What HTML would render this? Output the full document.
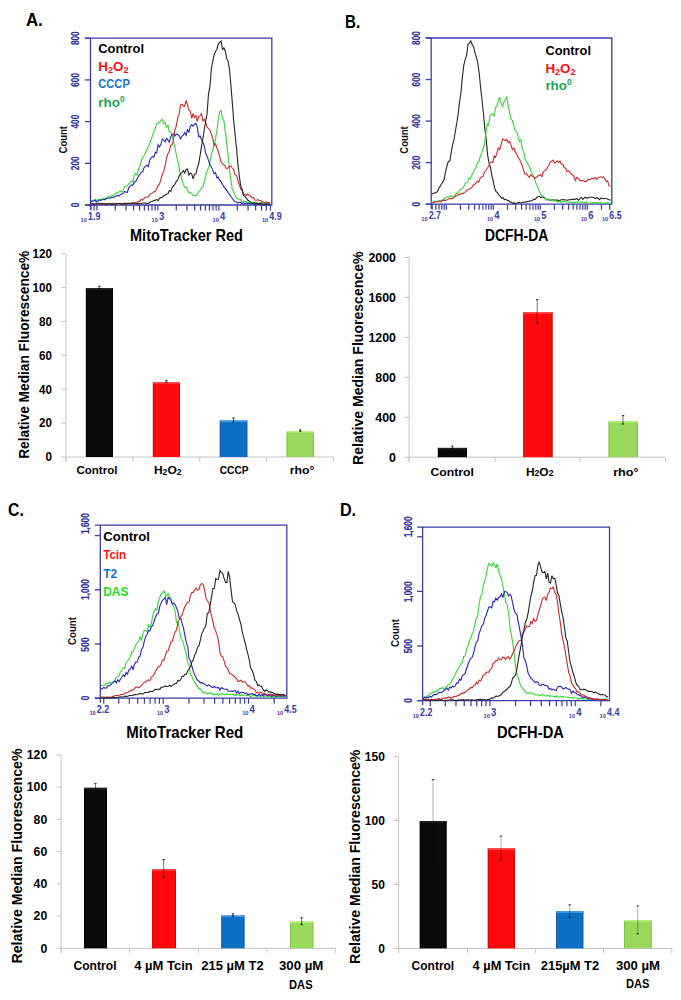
<!DOCTYPE html>
<html><head><meta charset="utf-8"><title>Figure</title>
<style>
html,body{margin:0;padding:0;background:#fff;}
body{width:681px;height:1000px;overflow:hidden;}
svg{display:block;font-family:"Liberation Sans", sans-serif;}
</style></head><body>
<svg width="681" height="1000" viewBox="0 0 681 1000">
<rect x="0" y="0" width="681" height="1000" fill="#fff"/>
<text x="25.90" y="26.10" font-size="18.5" fill="#000" font-weight="bold" text-anchor="start" textLength="16.9" lengthAdjust="spacingAndGlyphs"  style="">A.</text>
<text x="345.00" y="27.50" font-size="18.5" fill="#000" font-weight="bold" text-anchor="start" textLength="15.1" lengthAdjust="spacingAndGlyphs"  style="">B.</text>
<text x="8.10" y="516.40" font-size="18.5" fill="#000" font-weight="bold" text-anchor="start" textLength="15.8" lengthAdjust="spacingAndGlyphs"  style="">C.</text>
<text x="339.90" y="516.40" font-size="18.5" fill="#000" font-weight="bold" text-anchor="start" textLength="16.2" lengthAdjust="spacingAndGlyphs"  style="">D.</text>
<path d="M85.00,38.20 H271.80 V205.00 H85.00 M90.50,38.20 V209.50" fill="none" stroke="#3c3ca8" stroke-width="1.3"/>
<line x1="85.00" y1="205.00" x2="90.50" y2="205.00" stroke="#3c3ca8" stroke-width="1.3" />
<line x1="85.00" y1="163.30" x2="90.50" y2="163.30" stroke="#3c3ca8" stroke-width="1.3" />
<line x1="85.00" y1="121.60" x2="90.50" y2="121.60" stroke="#3c3ca8" stroke-width="1.3" />
<line x1="85.00" y1="79.90" x2="90.50" y2="79.90" stroke="#3c3ca8" stroke-width="1.3" />
<line x1="85.00" y1="38.20" x2="90.50" y2="38.20" stroke="#3c3ca8" stroke-width="1.3" />
<line x1="90.99" y1="205.00" x2="90.99" y2="210.60" stroke="#3c3ca8" stroke-width="1.2" />
<line x1="94.11" y1="205.00" x2="94.11" y2="210.60" stroke="#3c3ca8" stroke-width="1.2" />
<line x1="96.90" y1="205.00" x2="96.90" y2="210.60" stroke="#3c3ca8" stroke-width="1.2" />
<line x1="115.26" y1="205.00" x2="115.26" y2="210.60" stroke="#3c3ca8" stroke-width="1.2" />
<line x1="126.00" y1="205.00" x2="126.00" y2="210.60" stroke="#3c3ca8" stroke-width="1.2" />
<line x1="133.63" y1="205.00" x2="133.63" y2="210.60" stroke="#3c3ca8" stroke-width="1.2" />
<line x1="139.54" y1="205.00" x2="139.54" y2="210.60" stroke="#3c3ca8" stroke-width="1.2" />
<line x1="144.37" y1="205.00" x2="144.37" y2="210.60" stroke="#3c3ca8" stroke-width="1.2" />
<line x1="148.45" y1="205.00" x2="148.45" y2="210.60" stroke="#3c3ca8" stroke-width="1.2" />
<line x1="151.99" y1="205.00" x2="151.99" y2="210.60" stroke="#3c3ca8" stroke-width="1.2" />
<line x1="155.11" y1="205.00" x2="155.11" y2="210.60" stroke="#3c3ca8" stroke-width="1.2" />
<line x1="157.90" y1="205.00" x2="157.90" y2="210.60" stroke="#3c3ca8" stroke-width="1.2" />
<line x1="176.26" y1="205.00" x2="176.26" y2="210.60" stroke="#3c3ca8" stroke-width="1.2" />
<line x1="187.00" y1="205.00" x2="187.00" y2="210.60" stroke="#3c3ca8" stroke-width="1.2" />
<line x1="194.63" y1="205.00" x2="194.63" y2="210.60" stroke="#3c3ca8" stroke-width="1.2" />
<line x1="200.54" y1="205.00" x2="200.54" y2="210.60" stroke="#3c3ca8" stroke-width="1.2" />
<line x1="205.37" y1="205.00" x2="205.37" y2="210.60" stroke="#3c3ca8" stroke-width="1.2" />
<line x1="209.45" y1="205.00" x2="209.45" y2="210.60" stroke="#3c3ca8" stroke-width="1.2" />
<line x1="212.99" y1="205.00" x2="212.99" y2="210.60" stroke="#3c3ca8" stroke-width="1.2" />
<line x1="216.11" y1="205.00" x2="216.11" y2="210.60" stroke="#3c3ca8" stroke-width="1.2" />
<line x1="218.90" y1="205.00" x2="218.90" y2="210.60" stroke="#3c3ca8" stroke-width="1.2" />
<line x1="237.26" y1="205.00" x2="237.26" y2="210.60" stroke="#3c3ca8" stroke-width="1.2" />
<line x1="248.00" y1="205.00" x2="248.00" y2="210.60" stroke="#3c3ca8" stroke-width="1.2" />
<line x1="255.63" y1="205.00" x2="255.63" y2="210.60" stroke="#3c3ca8" stroke-width="1.2" />
<line x1="261.54" y1="205.00" x2="261.54" y2="210.60" stroke="#3c3ca8" stroke-width="1.2" />
<line x1="266.37" y1="205.00" x2="266.37" y2="210.60" stroke="#3c3ca8" stroke-width="1.2" />
<line x1="270.45" y1="205.00" x2="270.45" y2="210.60" stroke="#3c3ca8" stroke-width="1.2" />
<text transform="translate(79.40,205.00) rotate(-90)" x="0" y="0" font-size="10" fill="#30309e" font-weight="bold" text-anchor="middle" textLength="4.5" lengthAdjust="spacingAndGlyphs" stroke="#30309e" stroke-width="0.15">0</text>
<text transform="translate(79.40,163.30) rotate(-90)" x="0" y="0" font-size="10" fill="#30309e" font-weight="bold" text-anchor="middle" textLength="13.8" lengthAdjust="spacingAndGlyphs" stroke="#30309e" stroke-width="0.15">200</text>
<text transform="translate(79.40,121.60) rotate(-90)" x="0" y="0" font-size="10" fill="#30309e" font-weight="bold" text-anchor="middle" textLength="13.8" lengthAdjust="spacingAndGlyphs" stroke="#30309e" stroke-width="0.15">400</text>
<text transform="translate(79.40,79.90) rotate(-90)" x="0" y="0" font-size="10" fill="#30309e" font-weight="bold" text-anchor="middle" textLength="13.8" lengthAdjust="spacingAndGlyphs" stroke="#30309e" stroke-width="0.15">600</text>
<text transform="translate(79.40,38.20) rotate(-90)" x="0" y="0" font-size="10" fill="#30309e" font-weight="bold" text-anchor="middle" textLength="13.8" lengthAdjust="spacingAndGlyphs" stroke="#30309e" stroke-width="0.15">800</text>
<text transform="translate(66.80,139.75) rotate(-90)" x="0" y="0" font-size="10.5" fill="#111" font-weight="bold" text-anchor="middle" textLength="27.5" lengthAdjust="spacingAndGlyphs" >Count</text>
<text x="80.60" y="221.90" font-size="6.2" fill="#3c3ca8" font-weight="bold" textLength="6.2" lengthAdjust="spacingAndGlyphs">10</text>
<text x="88.00" y="219.90" font-size="10.6" fill="#3c3ca8" font-weight="bold" textLength="12.4" lengthAdjust="spacingAndGlyphs">1.9</text>
<text x="151.55" y="221.90" font-size="6.2" fill="#3c3ca8" font-weight="bold" textLength="6.2" lengthAdjust="spacingAndGlyphs">10</text>
<text x="158.95" y="219.90" font-size="10.6" fill="#3c3ca8" font-weight="bold" textLength="5.3" lengthAdjust="spacingAndGlyphs">3</text>
<text x="212.55" y="221.90" font-size="6.2" fill="#3c3ca8" font-weight="bold" textLength="6.2" lengthAdjust="spacingAndGlyphs">10</text>
<text x="219.95" y="219.90" font-size="10.6" fill="#3c3ca8" font-weight="bold" textLength="5.3" lengthAdjust="spacingAndGlyphs">4</text>
<text x="261.90" y="221.90" font-size="6.2" fill="#3c3ca8" font-weight="bold" textLength="6.2" lengthAdjust="spacingAndGlyphs">10</text>
<text x="269.30" y="219.90" font-size="10.6" fill="#3c3ca8" font-weight="bold" textLength="12.4" lengthAdjust="spacingAndGlyphs">4.9</text>
<path d="M90.90,200.37 L92.30,200.72 L93.70,200.25 L95.10,199.45 L96.50,200.44 L97.90,199.88 L99.30,199.11 L100.70,199.55 L102.10,199.13 L103.50,198.80 L104.90,198.23 L106.30,198.30 L107.70,197.03 L109.10,196.72 L110.50,196.00 L111.90,196.19 L113.30,194.94 L114.70,194.07 L116.10,193.12 L117.50,192.62 L118.90,191.99 L120.30,191.00 L121.70,191.92 L123.10,190.60 L124.50,187.06 L125.90,185.90 L127.30,185.59 L128.70,183.97 L130.10,182.83 L131.50,180.88 L132.90,181.82 L134.30,175.24 L135.70,173.34 L137.10,174.97 L138.50,169.50 L139.90,166.41 L141.30,161.28 L142.70,157.00 L144.10,155.87 L145.50,153.03 L146.90,148.95 L148.30,146.73 L149.70,144.23 L151.10,139.29 L152.50,135.62 L153.90,131.87 L155.30,128.11 L156.70,123.72 L158.10,123.06 L159.50,122.28 L160.90,120.54 L162.30,119.35 L163.70,123.80 L165.10,122.45 L166.50,127.23 L167.90,125.39 L169.30,131.84 L170.70,132.27 L172.10,135.08 L173.50,141.15 L174.90,147.19 L176.30,154.62 L177.70,160.66 L179.10,167.33 L180.50,174.62 L181.90,179.44 L183.30,184.16 L184.70,187.38 L186.10,187.20 L187.50,189.96 L188.90,192.67 L190.30,192.42 L191.70,193.44 L193.10,195.55 L194.50,195.45 L195.90,195.95 L197.30,193.85 L198.70,191.69 L200.10,190.27 L201.50,187.70 L202.90,186.57 L204.30,182.28 L205.70,176.16 L207.10,170.97 L208.50,168.04 L209.90,162.23 L211.30,154.82 L212.70,149.93 L214.10,145.26 L215.50,138.81 L216.90,130.88 L218.30,119.49 L219.70,111.68 L221.10,110.34 L222.50,118.43 L223.90,120.46 L225.30,131.68 L226.70,142.86 L228.10,155.27 L229.50,169.36 L230.90,179.86 L232.30,189.67 L233.70,191.97 L235.10,195.56 L236.50,198.17 L237.90,198.86 L239.30,199.21 L240.70,199.65 L242.10,201.97 L243.50,201.08 L244.90,201.31 L246.30,201.90 L247.70,202.00 L249.10,202.75 L250.50,202.36 L251.90,202.44 L253.30,202.35 L254.70,202.88 L256.10,202.44 L257.50,203.14 L258.90,203.69 L260.30,202.54 L261.70,202.49 L263.10,203.32 L264.50,204.12 L265.90,202.83 L267.30,202.80 L268.70,203.41 L270.10,202.92" fill="none" stroke="#33d633" stroke-width="1.1" stroke-linejoin="miter" stroke-miterlimit="3"/>
<path d="M90.90,201.73 L92.30,201.23 L93.70,201.02 L95.10,200.31 L96.50,201.99 L97.90,201.25 L99.30,200.00 L100.70,200.44 L102.10,199.76 L103.50,199.04 L104.90,199.78 L106.30,198.54 L107.70,198.23 L109.10,197.75 L110.50,198.15 L111.90,197.34 L113.30,197.54 L114.70,196.36 L116.10,196.28 L117.50,195.29 L118.90,196.01 L120.30,194.66 L121.70,194.09 L123.10,193.36 L124.50,191.47 L125.90,191.97 L127.30,192.53 L128.70,187.85 L130.10,186.45 L131.50,184.89 L132.90,185.18 L134.30,182.04 L135.70,181.56 L137.10,178.96 L138.50,176.18 L139.90,174.47 L141.30,171.97 L142.70,171.96 L144.10,167.48 L145.50,166.17 L146.90,165.14 L148.30,166.65 L149.70,160.21 L151.10,158.02 L152.50,156.49 L153.90,157.19 L155.30,152.25 L156.70,152.88 L158.10,144.75 L159.50,146.90 L160.90,144.65 L162.30,139.13 L163.70,140.06 L165.10,142.10 L166.50,138.33 L167.90,140.15 L169.30,142.24 L170.70,136.77 L172.10,134.98 L173.50,133.80 L174.90,136.04 L176.30,133.89 L177.70,134.52 L179.10,135.73 L180.50,138.73 L181.90,136.33 L183.30,135.06 L184.70,132.42 L186.10,135.37 L187.50,129.63 L188.90,132.12 L190.30,126.57 L191.70,124.65 L193.10,126.15 L194.50,124.23 L195.90,123.57 L197.30,126.91 L198.70,136.65 L200.10,135.98 L201.50,139.71 L202.90,142.15 L204.30,145.81 L205.70,153.25 L207.10,156.14 L208.50,160.45 L209.90,164.69 L211.30,166.65 L212.70,169.89 L214.10,173.57 L215.50,172.59 L216.90,177.86 L218.30,177.04 L219.70,180.11 L221.10,181.68 L222.50,184.42 L223.90,186.84 L225.30,188.59 L226.70,190.43 L228.10,192.54 L229.50,194.57 L230.90,196.26 L232.30,198.52 L233.70,200.35 L235.10,201.69 L236.50,201.98 L237.90,203.19 L239.30,202.39 L240.70,202.35 L242.10,203.79 L243.50,202.67 L244.90,203.60 L246.30,203.02 L247.70,203.53 L249.10,203.05 L250.50,203.98 L251.90,203.57 L253.30,203.49 L254.70,204.54 L256.10,204.17 L257.50,203.90 L258.90,203.80 L260.30,203.98 L261.70,204.01 L263.10,204.40 L264.50,204.46 L265.90,204.04 L267.30,204.08 L268.70,204.10 L270.10,203.97" fill="none" stroke="#2626bc" stroke-width="1.1" stroke-linejoin="miter" stroke-miterlimit="3"/>
<path d="M90.90,204.73 L92.30,203.43 L93.70,203.99 L95.10,203.69 L96.50,203.71 L97.90,203.74 L99.30,203.40 L100.70,203.73 L102.10,203.60 L103.50,204.69 L104.90,203.84 L106.30,203.65 L107.70,203.65 L109.10,203.56 L110.50,203.46 L111.90,203.57 L113.30,203.86 L114.70,203.55 L116.10,204.04 L117.50,203.50 L118.90,203.52 L120.30,204.25 L121.70,203.71 L123.10,203.29 L124.50,203.32 L125.90,203.60 L127.30,204.29 L128.70,203.17 L130.10,203.12 L131.50,203.66 L132.90,202.83 L134.30,202.72 L135.70,202.94 L137.10,202.28 L138.50,201.37 L139.90,201.16 L141.30,199.32 L142.70,200.11 L144.10,198.21 L145.50,197.20 L146.90,197.30 L148.30,196.88 L149.70,195.00 L151.10,193.61 L152.50,192.91 L153.90,191.48 L155.30,191.72 L156.70,188.85 L158.10,185.62 L159.50,184.27 L160.90,179.17 L162.30,174.81 L163.70,171.41 L165.10,165.64 L166.50,158.63 L167.90,153.60 L169.30,151.31 L170.70,145.20 L172.10,144.77 L173.50,139.01 L174.90,129.93 L176.30,126.02 L177.70,117.71 L179.10,114.45 L180.50,104.98 L181.90,104.13 L183.30,105.95 L184.70,106.48 L186.10,100.32 L187.50,104.94 L188.90,110.13 L190.30,111.07 L191.70,118.51 L193.10,113.48 L194.50,117.30 L195.90,115.60 L197.30,121.32 L198.70,116.60 L200.10,115.70 L201.50,113.61 L202.90,120.88 L204.30,119.35 L205.70,122.42 L207.10,127.26 L208.50,128.30 L209.90,130.18 L211.30,133.88 L212.70,137.70 L214.10,145.65 L215.50,143.79 L216.90,147.89 L218.30,151.49 L219.70,156.44 L221.10,162.05 L222.50,163.73 L223.90,164.86 L225.30,166.30 L226.70,168.82 L228.10,167.87 L229.50,166.75 L230.90,166.04 L232.30,168.04 L233.70,169.79 L235.10,174.67 L236.50,175.67 L237.90,180.48 L239.30,184.53 L240.70,188.87 L242.10,190.37 L243.50,194.04 L244.90,194.55 L246.30,195.50 L247.70,193.82 L249.10,195.41 L250.50,196.16 L251.90,197.79 L253.30,197.37 L254.70,199.90 L256.10,200.44 L257.50,199.71 L258.90,200.23 L260.30,200.61 L261.70,201.18 L263.10,201.88 L264.50,203.03 L265.90,201.86 L267.30,202.58 L268.70,202.31 L270.10,203.38" fill="none" stroke="#cc2a2a" stroke-width="1.1" stroke-linejoin="miter" stroke-miterlimit="3"/>
<path d="M90.90,203.68 L92.30,203.77 L93.70,204.58 L95.10,204.11 L96.50,203.49 L97.90,203.79 L99.30,203.67 L100.70,203.86 L102.10,203.48 L103.50,203.89 L104.90,203.88 L106.30,204.51 L107.70,203.91 L109.10,203.99 L110.50,203.46 L111.90,204.68 L113.30,203.36 L114.70,204.23 L116.10,203.63 L117.50,203.51 L118.90,203.54 L120.30,203.52 L121.70,203.82 L123.10,203.59 L124.50,204.32 L125.90,203.21 L127.30,203.55 L128.70,203.35 L130.10,203.89 L131.50,203.08 L132.90,203.38 L134.30,203.53 L135.70,203.09 L137.10,203.87 L138.50,203.42 L139.90,203.82 L141.30,203.76 L142.70,203.01 L144.10,203.01 L145.50,203.09 L146.90,203.50 L148.30,203.38 L149.70,202.35 L151.10,201.85 L152.50,201.19 L153.90,200.61 L155.30,200.11 L156.70,199.57 L158.10,200.74 L159.50,198.22 L160.90,197.62 L162.30,197.44 L163.70,195.76 L165.10,195.05 L166.50,194.09 L167.90,193.68 L169.30,190.62 L170.70,191.47 L172.10,187.66 L173.50,185.82 L174.90,184.27 L176.30,181.39 L177.70,179.79 L179.10,176.07 L180.50,173.72 L181.90,172.88 L183.30,170.55 L184.70,172.90 L186.10,169.39 L187.50,169.01 L188.90,175.07 L190.30,172.94 L191.70,173.88 L193.10,178.86 L194.50,174.25 L195.90,173.99 L197.30,167.93 L198.70,163.75 L200.10,155.32 L201.50,146.46 L202.90,138.42 L204.30,129.52 L205.70,121.07 L207.10,113.76 L208.50,93.68 L209.90,86.85 L211.30,69.52 L212.70,61.52 L214.10,54.86 L215.50,51.49 L216.90,49.25 L218.30,44.06 L219.70,42.46 L221.10,41.17 L222.50,49.59 L223.90,47.90 L225.30,50.97 L226.70,58.48 L228.10,61.11 L229.50,69.70 L230.90,84.97 L232.30,102.49 L233.70,121.13 L235.10,134.27 L236.50,148.32 L237.90,163.82 L239.30,175.70 L240.70,185.95 L242.10,189.51 L243.50,195.41 L244.90,196.32 L246.30,198.15 L247.70,200.02 L249.10,200.84 L250.50,201.83 L251.90,203.34 L253.30,203.12 L254.70,203.02 L256.10,203.57 L257.50,203.12 L258.90,204.39 L260.30,203.64 L261.70,203.77 L263.10,204.75 L264.50,204.79 L265.90,203.98 L267.30,204.24 L268.70,204.47 L270.10,204.74" fill="none" stroke="#262626" stroke-width="1.1" stroke-linejoin="miter" stroke-miterlimit="3"/>
<text x="98.30" y="53.10" font-size="13.4" fill="#000" font-weight="bold" text-anchor="start" textLength="45.7" lengthAdjust="spacingAndGlyphs"  style="">Control</text>
<text x="98.3" y="70.8" font-size="13.4" fill="#ff1010" font-weight="bold">H<tspan font-size="9" dy="2.5">2</tspan><tspan dy="-2.5">O</tspan><tspan font-size="9" dy="2.5">2</tspan></text>
<text x="98.30" y="88.30" font-size="13.4" fill="#1874c8" font-weight="bold" text-anchor="start" textLength="31.5" lengthAdjust="spacingAndGlyphs"  style="">CCCP</text>
<text x="98.3" y="107.4" font-size="13.4" fill="#18a850" font-weight="bold">rho<tspan font-size="8.5" dy="-5">0</tspan></text>
<text x="130.00" y="241.00" font-size="16.3" fill="#000" font-weight="bold" text-anchor="start" textLength="113.0" lengthAdjust="spacingAndGlyphs"  style="">MitoTracker Red</text>
<path d="M425.70,38.00 H611.80 V204.20 H425.70 M431.20,38.00 V208.70" fill="none" stroke="#3c3ca8" stroke-width="1.3"/>
<line x1="425.70" y1="204.20" x2="431.20" y2="204.20" stroke="#3c3ca8" stroke-width="1.3" />
<line x1="425.70" y1="162.65" x2="431.20" y2="162.65" stroke="#3c3ca8" stroke-width="1.3" />
<line x1="425.70" y1="121.10" x2="431.20" y2="121.10" stroke="#3c3ca8" stroke-width="1.3" />
<line x1="425.70" y1="79.55" x2="431.20" y2="79.55" stroke="#3c3ca8" stroke-width="1.3" />
<line x1="425.70" y1="38.00" x2="431.20" y2="38.00" stroke="#3c3ca8" stroke-width="1.3" />
<line x1="432.15" y1="204.20" x2="432.15" y2="209.80" stroke="#3c3ca8" stroke-width="1.2" />
<line x1="435.87" y1="204.20" x2="435.87" y2="209.80" stroke="#3c3ca8" stroke-width="1.2" />
<line x1="439.02" y1="204.20" x2="439.02" y2="209.80" stroke="#3c3ca8" stroke-width="1.2" />
<line x1="441.75" y1="204.20" x2="441.75" y2="209.80" stroke="#3c3ca8" stroke-width="1.2" />
<line x1="444.15" y1="204.20" x2="444.15" y2="209.80" stroke="#3c3ca8" stroke-width="1.2" />
<line x1="446.30" y1="204.20" x2="446.30" y2="209.80" stroke="#3c3ca8" stroke-width="1.2" />
<line x1="460.45" y1="204.20" x2="460.45" y2="209.80" stroke="#3c3ca8" stroke-width="1.2" />
<line x1="468.72" y1="204.20" x2="468.72" y2="209.80" stroke="#3c3ca8" stroke-width="1.2" />
<line x1="474.60" y1="204.20" x2="474.60" y2="209.80" stroke="#3c3ca8" stroke-width="1.2" />
<line x1="479.15" y1="204.20" x2="479.15" y2="209.80" stroke="#3c3ca8" stroke-width="1.2" />
<line x1="482.87" y1="204.20" x2="482.87" y2="209.80" stroke="#3c3ca8" stroke-width="1.2" />
<line x1="486.02" y1="204.20" x2="486.02" y2="209.80" stroke="#3c3ca8" stroke-width="1.2" />
<line x1="488.75" y1="204.20" x2="488.75" y2="209.80" stroke="#3c3ca8" stroke-width="1.2" />
<line x1="491.15" y1="204.20" x2="491.15" y2="209.80" stroke="#3c3ca8" stroke-width="1.2" />
<line x1="493.30" y1="204.20" x2="493.30" y2="209.80" stroke="#3c3ca8" stroke-width="1.2" />
<line x1="507.45" y1="204.20" x2="507.45" y2="209.80" stroke="#3c3ca8" stroke-width="1.2" />
<line x1="515.72" y1="204.20" x2="515.72" y2="209.80" stroke="#3c3ca8" stroke-width="1.2" />
<line x1="521.60" y1="204.20" x2="521.60" y2="209.80" stroke="#3c3ca8" stroke-width="1.2" />
<line x1="526.15" y1="204.20" x2="526.15" y2="209.80" stroke="#3c3ca8" stroke-width="1.2" />
<line x1="529.87" y1="204.20" x2="529.87" y2="209.80" stroke="#3c3ca8" stroke-width="1.2" />
<line x1="533.02" y1="204.20" x2="533.02" y2="209.80" stroke="#3c3ca8" stroke-width="1.2" />
<line x1="535.75" y1="204.20" x2="535.75" y2="209.80" stroke="#3c3ca8" stroke-width="1.2" />
<line x1="538.15" y1="204.20" x2="538.15" y2="209.80" stroke="#3c3ca8" stroke-width="1.2" />
<line x1="540.30" y1="204.20" x2="540.30" y2="209.80" stroke="#3c3ca8" stroke-width="1.2" />
<line x1="554.45" y1="204.20" x2="554.45" y2="209.80" stroke="#3c3ca8" stroke-width="1.2" />
<line x1="562.72" y1="204.20" x2="562.72" y2="209.80" stroke="#3c3ca8" stroke-width="1.2" />
<line x1="568.60" y1="204.20" x2="568.60" y2="209.80" stroke="#3c3ca8" stroke-width="1.2" />
<line x1="573.15" y1="204.20" x2="573.15" y2="209.80" stroke="#3c3ca8" stroke-width="1.2" />
<line x1="576.87" y1="204.20" x2="576.87" y2="209.80" stroke="#3c3ca8" stroke-width="1.2" />
<line x1="580.02" y1="204.20" x2="580.02" y2="209.80" stroke="#3c3ca8" stroke-width="1.2" />
<line x1="582.75" y1="204.20" x2="582.75" y2="209.80" stroke="#3c3ca8" stroke-width="1.2" />
<line x1="585.15" y1="204.20" x2="585.15" y2="209.80" stroke="#3c3ca8" stroke-width="1.2" />
<line x1="587.30" y1="204.20" x2="587.30" y2="209.80" stroke="#3c3ca8" stroke-width="1.2" />
<line x1="601.45" y1="204.20" x2="601.45" y2="209.80" stroke="#3c3ca8" stroke-width="1.2" />
<line x1="609.72" y1="204.20" x2="609.72" y2="209.80" stroke="#3c3ca8" stroke-width="1.2" />
<text transform="translate(420.20,204.20) rotate(-90)" x="0" y="0" font-size="10" fill="#30309e" font-weight="bold" text-anchor="middle" textLength="4.5" lengthAdjust="spacingAndGlyphs" stroke="#30309e" stroke-width="0.15">0</text>
<text transform="translate(420.20,162.65) rotate(-90)" x="0" y="0" font-size="10" fill="#30309e" font-weight="bold" text-anchor="middle" textLength="13.8" lengthAdjust="spacingAndGlyphs" stroke="#30309e" stroke-width="0.15">200</text>
<text transform="translate(420.20,121.10) rotate(-90)" x="0" y="0" font-size="10" fill="#30309e" font-weight="bold" text-anchor="middle" textLength="13.8" lengthAdjust="spacingAndGlyphs" stroke="#30309e" stroke-width="0.15">400</text>
<text transform="translate(420.20,79.55) rotate(-90)" x="0" y="0" font-size="10" fill="#30309e" font-weight="bold" text-anchor="middle" textLength="13.8" lengthAdjust="spacingAndGlyphs" stroke="#30309e" stroke-width="0.15">600</text>
<text transform="translate(420.20,38.00) rotate(-90)" x="0" y="0" font-size="10" fill="#30309e" font-weight="bold" text-anchor="middle" textLength="13.8" lengthAdjust="spacingAndGlyphs" stroke="#30309e" stroke-width="0.15">800</text>
<text transform="translate(407.50,140.00) rotate(-90)" x="0" y="0" font-size="10.5" fill="#111" font-weight="bold" text-anchor="middle" textLength="27.5" lengthAdjust="spacingAndGlyphs" >Count</text>
<text x="421.30" y="221.10" font-size="6.2" fill="#3c3ca8" font-weight="bold" textLength="6.2" lengthAdjust="spacingAndGlyphs">10</text>
<text x="428.70" y="219.10" font-size="10.6" fill="#3c3ca8" font-weight="bold" textLength="12.4" lengthAdjust="spacingAndGlyphs">2.7</text>
<text x="486.95" y="221.10" font-size="6.2" fill="#3c3ca8" font-weight="bold" textLength="6.2" lengthAdjust="spacingAndGlyphs">10</text>
<text x="494.35" y="219.10" font-size="10.6" fill="#3c3ca8" font-weight="bold" textLength="5.3" lengthAdjust="spacingAndGlyphs">4</text>
<text x="533.95" y="221.10" font-size="6.2" fill="#3c3ca8" font-weight="bold" textLength="6.2" lengthAdjust="spacingAndGlyphs">10</text>
<text x="541.35" y="219.10" font-size="10.6" fill="#3c3ca8" font-weight="bold" textLength="5.3" lengthAdjust="spacingAndGlyphs">5</text>
<text x="580.95" y="221.10" font-size="6.2" fill="#3c3ca8" font-weight="bold" textLength="6.2" lengthAdjust="spacingAndGlyphs">10</text>
<text x="588.35" y="219.10" font-size="10.6" fill="#3c3ca8" font-weight="bold" textLength="5.3" lengthAdjust="spacingAndGlyphs">6</text>
<text x="601.90" y="221.10" font-size="6.2" fill="#3c3ca8" font-weight="bold" textLength="6.2" lengthAdjust="spacingAndGlyphs">10</text>
<text x="609.30" y="219.10" font-size="10.6" fill="#3c3ca8" font-weight="bold" textLength="12.4" lengthAdjust="spacingAndGlyphs">6.5</text>
<path d="M431.60,193.95 L433.00,193.45 L434.40,193.16 L435.80,192.59 L437.20,192.01 L438.60,188.96 L440.00,186.56 L441.40,184.08 L442.80,182.11 L444.20,179.21 L445.60,171.92 L447.00,165.69 L448.40,161.28 L449.80,160.98 L451.20,152.66 L452.60,144.65 L454.00,139.72 L455.40,131.00 L456.80,123.14 L458.20,113.63 L459.60,101.77 L461.00,92.46 L462.40,76.92 L463.80,65.10 L465.20,59.31 L466.60,55.06 L468.00,44.31 L469.40,43.10 L470.80,40.94 L472.20,44.68 L473.60,46.77 L475.00,52.81 L476.40,57.22 L477.80,63.17 L479.20,73.23 L480.60,87.62 L482.00,99.70 L483.40,113.03 L484.80,128.48 L486.20,139.08 L487.60,154.81 L489.00,162.85 L490.40,166.96 L491.80,175.45 L493.20,180.85 L494.60,187.89 L496.00,191.56 L497.40,192.63 L498.80,194.95 L500.20,196.13 L501.60,198.12 L503.00,197.74 L504.40,199.55 L505.80,199.33 L507.20,200.19 L508.60,200.60 L510.00,202.23 L511.40,202.14 L512.80,203.35 L514.20,202.93 L515.60,203.20 L517.00,203.20 L518.40,202.61 L519.80,202.62 L521.20,203.20 L522.60,202.24 L524.00,202.23 L525.40,201.90 L526.80,202.02 L528.20,201.30 L529.60,201.08 L531.00,200.96 L532.40,200.31 L533.80,199.24 L535.20,199.45 L536.60,197.47 L538.00,196.81 L539.40,196.29 L540.80,197.52 L542.20,196.82 L543.60,197.46 L545.00,198.45 L546.40,200.02 L547.80,199.79 L549.20,199.73 L550.60,200.55 L552.00,199.75 L553.40,200.01 L554.80,200.10 L556.20,199.97 L557.60,200.08 L559.00,201.08 L560.40,199.95 L561.80,199.73 L563.20,199.56 L564.60,200.04 L566.00,199.99 L567.40,200.24 L568.80,199.82 L570.20,199.67 L571.60,199.42 L573.00,199.28 L574.40,199.35 L575.80,198.87 L577.20,198.84 L578.60,200.12 L580.00,198.70 L581.40,197.53 L582.80,199.42 L584.20,198.04 L585.60,197.27 L587.00,198.35 L588.40,197.52 L589.80,197.29 L591.20,197.31 L592.60,197.23 L594.00,197.69 L595.40,198.69 L596.80,197.73 L598.20,198.33 L599.60,199.73 L601.00,197.85 L602.40,198.67 L603.80,198.55 L605.20,198.53 L606.60,198.78 L608.00,199.36 L609.40,199.98 L610.80,199.79" fill="none" stroke="#262626" stroke-width="1.1" stroke-linejoin="miter" stroke-miterlimit="3"/>
<path d="M431.20,202.60 L432.60,202.84 L434.00,201.03 L435.40,201.18 L436.80,201.55 L438.20,201.44 L439.60,200.56 L441.00,200.79 L442.40,199.40 L443.80,199.14 L445.20,198.32 L446.60,197.25 L448.00,196.78 L449.40,196.90 L450.80,195.72 L452.20,196.63 L453.60,196.01 L455.00,195.87 L456.40,193.06 L457.80,193.80 L459.20,190.72 L460.60,189.61 L462.00,188.74 L463.40,187.40 L464.80,184.24 L466.20,182.12 L467.60,181.65 L469.00,178.29 L470.40,178.75 L471.80,174.99 L473.20,172.28 L474.60,169.33 L476.00,167.82 L477.40,162.77 L478.80,162.23 L480.20,156.35 L481.60,153.28 L483.00,148.66 L484.40,144.81 L485.80,133.41 L487.20,123.93 L488.60,124.93 L490.00,115.65 L491.40,114.16 L492.80,114.03 L494.20,116.50 L495.60,107.56 L497.00,105.80 L498.40,100.28 L499.80,97.16 L501.20,103.75 L502.60,106.32 L504.00,101.67 L505.40,99.48 L506.80,97.03 L508.20,105.62 L509.60,112.35 L511.00,119.16 L512.40,120.58 L513.80,125.67 L515.20,130.91 L516.60,131.62 L518.00,136.16 L519.40,141.52 L520.80,139.77 L522.20,148.13 L523.60,151.48 L525.00,158.84 L526.40,161.75 L527.80,163.80 L529.20,166.23 L530.60,170.18 L532.00,173.17 L533.40,176.89 L534.80,179.37 L536.20,184.17 L537.60,186.52 L539.00,190.56 L540.40,193.29 L541.80,196.43 L543.20,195.91 L544.60,197.48 L546.00,199.51 L547.40,198.93 L548.80,199.16 L550.20,200.10 L551.60,200.12 L553.00,201.07 L554.40,200.50 L555.80,201.11 L557.20,201.61 L558.60,202.01 L560.00,201.25 L561.40,202.51 L562.80,201.54 L564.20,201.49 L565.60,201.68 L567.00,202.05 L568.40,201.94 L569.80,202.31 L571.20,202.39 L572.60,202.33 L574.00,202.14 L575.40,203.24 L576.80,201.85 L578.20,201.95 L579.60,202.26 L581.00,202.14 L582.40,202.02 L583.80,202.31 L585.20,202.35 L586.60,202.12 L588.00,203.01 L589.40,203.26 L590.80,203.25 L592.20,202.54 L593.60,202.74 L595.00,202.46 L596.40,202.81 L597.80,202.59 L599.20,202.94 L600.60,202.68 L602.00,203.27 L603.40,203.18 L604.80,203.39 L606.20,202.47 L607.60,202.44 L609.00,203.00 L610.40,202.69" fill="none" stroke="#33d633" stroke-width="1.1" stroke-linejoin="miter" stroke-miterlimit="3"/>
<path d="M431.20,202.70 L432.60,202.70 L434.00,202.30 L435.40,201.95 L436.80,201.80 L438.20,201.40 L439.60,201.39 L441.00,201.93 L442.40,200.59 L443.80,200.20 L445.20,200.38 L446.60,199.93 L448.00,199.36 L449.40,198.58 L450.80,198.46 L452.20,198.61 L453.60,197.02 L455.00,196.79 L456.40,195.65 L457.80,195.27 L459.20,194.39 L460.60,194.39 L462.00,193.24 L463.40,193.36 L464.80,192.43 L466.20,191.30 L467.60,189.46 L469.00,189.21 L470.40,188.43 L471.80,187.50 L473.20,185.25 L474.60,184.53 L476.00,182.81 L477.40,181.41 L478.80,182.09 L480.20,178.15 L481.60,176.88 L483.00,176.52 L484.40,172.36 L485.80,170.50 L487.20,168.54 L488.60,166.18 L490.00,162.79 L491.40,161.88 L492.80,162.64 L494.20,156.04 L495.60,157.08 L497.00,152.69 L498.40,147.98 L499.80,149.53 L501.20,143.77 L502.60,139.07 L504.00,139.63 L505.40,140.90 L506.80,139.60 L508.20,142.35 L509.60,141.44 L511.00,145.12 L512.40,149.63 L513.80,148.10 L515.20,151.89 L516.60,153.76 L518.00,157.41 L519.40,158.99 L520.80,162.36 L522.20,165.44 L523.60,170.55 L525.00,174.08 L526.40,173.56 L527.80,175.52 L529.20,177.44 L530.60,174.89 L532.00,175.97 L533.40,176.23 L534.80,178.52 L536.20,177.52 L537.60,176.05 L539.00,175.62 L540.40,174.82 L541.80,176.59 L543.20,172.04 L544.60,170.62 L546.00,170.09 L547.40,167.56 L548.80,165.22 L550.20,162.14 L551.60,161.28 L553.00,160.11 L554.40,163.10 L555.80,162.08 L557.20,160.80 L558.60,162.52 L560.00,161.06 L561.40,164.46 L562.80,164.07 L564.20,167.71 L565.60,167.94 L567.00,171.57 L568.40,170.91 L569.80,171.84 L571.20,174.11 L572.60,174.61 L574.00,176.41 L575.40,180.49 L576.80,177.36 L578.20,178.43 L579.60,180.01 L581.00,181.10 L582.40,180.54 L583.80,180.55 L585.20,181.71 L586.60,181.19 L588.00,179.36 L589.40,179.62 L590.80,179.34 L592.20,178.15 L593.60,178.89 L595.00,177.48 L596.40,179.40 L597.80,177.79 L599.20,177.43 L600.60,176.79 L602.00,177.36 L603.40,176.81 L604.80,178.54 L606.20,181.29 L607.60,181.01 L609.00,185.67 L610.40,186.61" fill="none" stroke="#cc2a2a" stroke-width="1.1" stroke-linejoin="miter" stroke-miterlimit="3"/>
<text x="545.40" y="54.70" font-size="13.4" fill="#000" font-weight="bold" text-anchor="start" textLength="45.6" lengthAdjust="spacingAndGlyphs"  style="">Control</text>
<text x="545.4" y="72.6" font-size="13.4" fill="#ff1010" font-weight="bold">H<tspan font-size="9" dy="2.5">2</tspan><tspan dy="-2.5">O</tspan><tspan font-size="9" dy="2.5">2</tspan></text>
<text x="545.4" y="89.5" font-size="13.4" fill="#18a850" font-weight="bold">rho<tspan font-size="8.5" dy="-5">0</tspan></text>
<text x="485.00" y="240.80" font-size="16.7" fill="#000" font-weight="bold" text-anchor="start" textLength="63.3" lengthAdjust="spacingAndGlyphs"  style="">DCFH-DA</text>
<path d="M94.80,525.10 H286.80 V698.20 H94.80 M100.30,525.10 V702.70" fill="none" stroke="#3c3ca8" stroke-width="1.3"/>
<line x1="94.80" y1="698.20" x2="100.30" y2="698.20" stroke="#3c3ca8" stroke-width="1.3" />
<line x1="94.80" y1="644.00" x2="100.30" y2="644.00" stroke="#3c3ca8" stroke-width="1.3" />
<line x1="94.80" y1="589.80" x2="100.30" y2="589.80" stroke="#3c3ca8" stroke-width="1.3" />
<line x1="94.80" y1="535.60" x2="100.30" y2="535.60" stroke="#3c3ca8" stroke-width="1.3" />
<line x1="103.75" y1="698.20" x2="103.75" y2="703.80" stroke="#3c3ca8" stroke-width="1.2" />
<line x1="118.75" y1="698.20" x2="118.75" y2="703.80" stroke="#3c3ca8" stroke-width="1.2" />
<line x1="129.40" y1="698.20" x2="129.40" y2="703.80" stroke="#3c3ca8" stroke-width="1.2" />
<line x1="137.65" y1="698.20" x2="137.65" y2="703.80" stroke="#3c3ca8" stroke-width="1.2" />
<line x1="144.40" y1="698.20" x2="144.40" y2="703.80" stroke="#3c3ca8" stroke-width="1.2" />
<line x1="150.10" y1="698.20" x2="150.10" y2="703.80" stroke="#3c3ca8" stroke-width="1.2" />
<line x1="155.04" y1="698.20" x2="155.04" y2="703.80" stroke="#3c3ca8" stroke-width="1.2" />
<line x1="159.40" y1="698.20" x2="159.40" y2="703.80" stroke="#3c3ca8" stroke-width="1.2" />
<line x1="163.30" y1="698.20" x2="163.30" y2="703.80" stroke="#3c3ca8" stroke-width="1.2" />
<line x1="188.95" y1="698.20" x2="188.95" y2="703.80" stroke="#3c3ca8" stroke-width="1.2" />
<line x1="203.95" y1="698.20" x2="203.95" y2="703.80" stroke="#3c3ca8" stroke-width="1.2" />
<line x1="214.60" y1="698.20" x2="214.60" y2="703.80" stroke="#3c3ca8" stroke-width="1.2" />
<line x1="222.85" y1="698.20" x2="222.85" y2="703.80" stroke="#3c3ca8" stroke-width="1.2" />
<line x1="229.60" y1="698.20" x2="229.60" y2="703.80" stroke="#3c3ca8" stroke-width="1.2" />
<line x1="235.30" y1="698.20" x2="235.30" y2="703.80" stroke="#3c3ca8" stroke-width="1.2" />
<line x1="240.24" y1="698.20" x2="240.24" y2="703.80" stroke="#3c3ca8" stroke-width="1.2" />
<line x1="244.60" y1="698.20" x2="244.60" y2="703.80" stroke="#3c3ca8" stroke-width="1.2" />
<line x1="248.50" y1="698.20" x2="248.50" y2="703.80" stroke="#3c3ca8" stroke-width="1.2" />
<line x1="274.15" y1="698.20" x2="274.15" y2="703.80" stroke="#3c3ca8" stroke-width="1.2" />
<text transform="translate(89.30,523.60) rotate(-90)" x="0" y="0" font-size="10" fill="#30309e" font-weight="bold" text-anchor="middle" textLength="21.0" lengthAdjust="spacingAndGlyphs" stroke="#30309e" stroke-width="0.15">1,600</text>
<text transform="translate(89.30,589.50) rotate(-90)" x="0" y="0" font-size="10" fill="#30309e" font-weight="bold" text-anchor="middle" textLength="21.0" lengthAdjust="spacingAndGlyphs" stroke="#30309e" stroke-width="0.15">1,000</text>
<text transform="translate(89.30,644.60) rotate(-90)" x="0" y="0" font-size="10" fill="#30309e" font-weight="bold" text-anchor="middle" textLength="14.8" lengthAdjust="spacingAndGlyphs" stroke="#30309e" stroke-width="0.15">500</text>
<text transform="translate(89.30,697.90) rotate(-90)" x="0" y="0" font-size="10" fill="#30309e" font-weight="bold" text-anchor="middle" textLength="4.5" lengthAdjust="spacingAndGlyphs" stroke="#30309e" stroke-width="0.15">0</text>
<text transform="translate(76.00,631.00) rotate(-90)" x="0" y="0" font-size="10.5" fill="#111" font-weight="bold" text-anchor="middle" textLength="28.0" lengthAdjust="spacingAndGlyphs" >Count</text>
<text x="89.40" y="715.10" font-size="6.2" fill="#3c3ca8" font-weight="bold" textLength="6.2" lengthAdjust="spacingAndGlyphs">10</text>
<text x="96.80" y="713.10" font-size="10.6" fill="#3c3ca8" font-weight="bold" textLength="12.4" lengthAdjust="spacingAndGlyphs">2.2</text>
<text x="156.95" y="715.10" font-size="6.2" fill="#3c3ca8" font-weight="bold" textLength="6.2" lengthAdjust="spacingAndGlyphs">10</text>
<text x="164.35" y="713.10" font-size="10.6" fill="#3c3ca8" font-weight="bold" textLength="5.3" lengthAdjust="spacingAndGlyphs">3</text>
<text x="242.15" y="715.10" font-size="6.2" fill="#3c3ca8" font-weight="bold" textLength="6.2" lengthAdjust="spacingAndGlyphs">10</text>
<text x="249.55" y="713.10" font-size="10.6" fill="#3c3ca8" font-weight="bold" textLength="5.3" lengthAdjust="spacingAndGlyphs">4</text>
<text x="276.90" y="715.10" font-size="6.2" fill="#3c3ca8" font-weight="bold" textLength="6.2" lengthAdjust="spacingAndGlyphs">10</text>
<text x="284.30" y="713.10" font-size="10.6" fill="#3c3ca8" font-weight="bold" textLength="12.4" lengthAdjust="spacingAndGlyphs">4.5</text>
<path d="M100.90,685.48 L102.30,685.38 L103.70,684.93 L105.10,684.85 L106.50,683.33 L107.90,683.47 L109.30,682.20 L110.70,683.01 L112.10,682.17 L113.50,681.81 L114.90,679.69 L116.30,677.07 L117.70,676.84 L119.10,676.18 L120.50,671.32 L121.90,670.84 L123.30,667.62 L124.70,668.25 L126.10,662.66 L127.50,660.90 L128.90,659.56 L130.30,656.77 L131.70,652.02 L133.10,651.50 L134.50,647.77 L135.90,644.97 L137.30,642.55 L138.70,641.01 L140.10,636.53 L141.50,640.49 L142.90,633.58 L144.30,630.33 L145.70,630.24 L147.10,632.01 L148.50,624.79 L149.90,627.10 L151.30,624.32 L152.70,615.70 L154.10,611.18 L155.50,608.65 L156.90,610.30 L158.30,601.86 L159.70,597.61 L161.10,594.27 L162.50,592.63 L163.90,590.80 L165.30,594.24 L166.70,596.10 L168.10,593.63 L169.50,597.12 L170.90,598.49 L172.30,603.71 L173.70,606.16 L175.10,610.58 L176.50,622.60 L177.90,621.72 L179.30,628.79 L180.70,637.88 L182.10,639.98 L183.50,643.44 L184.90,649.38 L186.30,654.23 L187.70,662.52 L189.10,665.61 L190.50,674.57 L191.90,676.33 L193.30,680.01 L194.70,682.28 L196.10,685.06 L197.50,686.00 L198.90,688.83 L200.30,688.62 L201.70,690.59 L203.10,693.22 L204.50,692.07 L205.90,692.89 L207.30,693.99 L208.70,693.37 L210.10,692.91 L211.50,692.66 L212.90,695.01 L214.30,693.92 L215.70,694.67 L217.10,693.68 L218.50,695.28 L219.90,694.40 L221.30,694.13 L222.70,693.92 L224.10,694.52 L225.50,694.19 L226.90,694.35 L228.30,694.04 L229.70,694.44 L231.10,694.76 L232.50,694.39 L233.90,694.86 L235.30,695.33 L236.70,694.89 L238.10,694.88 L239.50,694.96 L240.90,695.80 L242.30,694.88 L243.70,695.27 L245.10,695.31 L246.50,695.57 L247.90,695.53 L249.30,695.35 L250.70,696.89 L252.10,695.85 L253.50,695.49 L254.90,695.66 L256.30,695.99 L257.70,696.34 L259.10,695.74 L260.50,696.49 L261.90,695.84 L263.30,696.02 L264.70,696.71 L266.10,697.21 L267.50,696.30 L268.90,696.29 L270.30,697.07 L271.70,696.20 L273.10,696.61 L274.50,696.61 L275.90,697.04 L277.30,696.69 L278.70,696.50 L280.10,696.89 L281.50,696.35 L282.90,697.01 L284.30,696.46 L285.70,696.41" fill="none" stroke="#33d633" stroke-width="1.1" stroke-linejoin="miter" stroke-miterlimit="3"/>
<path d="M100.90,688.87 L102.30,688.92 L103.70,687.35 L105.10,688.17 L106.50,688.08 L107.90,685.82 L109.30,685.81 L110.70,684.80 L112.10,683.46 L113.50,682.35 L114.90,680.80 L116.30,682.90 L117.70,679.87 L119.10,681.79 L120.50,678.97 L121.90,676.98 L123.30,674.92 L124.70,676.39 L126.10,672.48 L127.50,674.22 L128.90,669.90 L130.30,669.18 L131.70,666.31 L133.10,669.73 L134.50,664.21 L135.90,662.14 L137.30,662.04 L138.70,657.06 L140.10,656.13 L141.50,649.44 L142.90,647.63 L144.30,641.13 L145.70,636.45 L147.10,634.44 L148.50,630.59 L149.90,630.98 L151.30,626.84 L152.70,625.48 L154.10,621.29 L155.50,617.18 L156.90,613.98 L158.30,613.49 L159.70,606.63 L161.10,603.12 L162.50,600.33 L163.90,599.06 L165.30,597.23 L166.70,604.58 L168.10,597.34 L169.50,598.32 L170.90,600.41 L172.30,604.16 L173.70,603.17 L175.10,604.61 L176.50,607.79 L177.90,611.68 L179.30,618.47 L180.70,618.21 L182.10,623.61 L183.50,627.93 L184.90,635.44 L186.30,642.33 L187.70,646.79 L189.10,658.82 L190.50,660.93 L191.90,666.22 L193.30,671.11 L194.70,674.89 L196.10,677.49 L197.50,680.34 L198.90,681.14 L200.30,683.07 L201.70,682.46 L203.10,683.53 L204.50,683.93 L205.90,685.07 L207.30,685.79 L208.70,684.85 L210.10,685.79 L211.50,687.04 L212.90,687.58 L214.30,686.31 L215.70,687.75 L217.10,687.77 L218.50,687.47 L219.90,690.08 L221.30,687.69 L222.70,688.32 L224.10,689.18 L225.50,689.22 L226.90,689.17 L228.30,690.93 L229.70,691.27 L231.10,691.02 L232.50,691.39 L233.90,690.70 L235.30,690.58 L236.70,693.14 L238.10,691.24 L239.50,693.62 L240.90,692.07 L242.30,692.55 L243.70,692.55 L245.10,693.64 L246.50,692.94 L247.90,694.79 L249.30,693.98 L250.70,693.91 L252.10,693.81 L253.50,694.35 L254.90,694.30 L256.30,695.76 L257.70,695.17 L259.10,694.19 L260.50,695.77 L261.90,694.28 L263.30,695.95 L264.70,694.51 L266.10,695.10 L267.50,695.71 L268.90,695.27 L270.30,695.07 L271.70,696.19 L273.10,695.04 L274.50,695.19 L275.90,696.44 L277.30,695.44 L278.70,695.84 L280.10,696.21 L281.50,695.73 L282.90,695.94 L284.30,695.87 L285.70,695.93" fill="none" stroke="#2626bc" stroke-width="1.1" stroke-linejoin="miter" stroke-miterlimit="3"/>
<path d="M100.90,697.11 L102.30,697.16 L103.70,697.10 L105.10,697.28 L106.50,697.01 L107.90,696.99 L109.30,697.20 L110.70,697.05 L112.10,696.68 L113.50,696.12 L114.90,695.83 L116.30,695.57 L117.70,695.44 L119.10,695.25 L120.50,694.74 L121.90,694.34 L123.30,694.44 L124.70,693.14 L126.10,693.05 L127.50,692.82 L128.90,691.42 L130.30,690.63 L131.70,689.99 L133.10,690.17 L134.50,688.68 L135.90,687.14 L137.30,687.01 L138.70,687.61 L140.10,686.80 L141.50,685.56 L142.90,683.77 L144.30,681.98 L145.70,682.18 L147.10,680.77 L148.50,679.81 L149.90,680.74 L151.30,677.26 L152.70,675.77 L154.10,674.52 L155.50,671.37 L156.90,669.00 L158.30,666.76 L159.70,666.55 L161.10,663.80 L162.50,660.03 L163.90,660.34 L165.30,655.64 L166.70,651.23 L168.10,650.92 L169.50,646.34 L170.90,642.03 L172.30,641.35 L173.70,636.04 L175.10,632.11 L176.50,630.20 L177.90,622.38 L179.30,619.44 L180.70,617.00 L182.10,614.98 L183.50,610.21 L184.90,606.72 L186.30,603.75 L187.70,602.26 L189.10,602.06 L190.50,595.39 L191.90,592.24 L193.30,592.33 L194.70,590.27 L196.10,587.94 L197.50,590.10 L198.90,589.72 L200.30,584.91 L201.70,583.45 L203.10,584.41 L204.50,589.50 L205.90,597.66 L207.30,601.22 L208.70,602.00 L210.10,609.37 L211.50,615.74 L212.90,621.86 L214.30,628.07 L215.70,630.86 L217.10,635.41 L218.50,640.98 L219.90,652.13 L221.30,656.10 L222.70,656.76 L224.10,660.94 L225.50,666.26 L226.90,667.55 L228.30,670.27 L229.70,673.48 L231.10,673.91 L232.50,675.02 L233.90,676.02 L235.30,677.31 L236.70,678.82 L238.10,681.53 L239.50,681.14 L240.90,680.08 L242.30,682.11 L243.70,681.71 L245.10,681.64 L246.50,683.46 L247.90,685.94 L249.30,685.63 L250.70,688.13 L252.10,687.94 L253.50,689.10 L254.90,689.58 L256.30,692.83 L257.70,692.11 L259.10,693.10 L260.50,692.47 L261.90,692.48 L263.30,694.21 L264.70,693.30 L266.10,695.00 L267.50,693.91 L268.90,695.34 L270.30,694.13 L271.70,694.02 L273.10,695.16 L274.50,694.83 L275.90,695.00 L277.30,695.83 L278.70,695.07 L280.10,695.10 L281.50,695.25 L282.90,695.23 L284.30,695.29 L285.70,695.48" fill="none" stroke="#cc2a2a" stroke-width="1.1" stroke-linejoin="miter" stroke-miterlimit="3"/>
<path d="M100.90,698.01 L102.30,698.20 L103.70,698.20 L105.10,697.87 L106.50,697.85 L107.90,697.76 L109.30,697.97 L110.70,697.67 L112.10,697.88 L113.50,697.19 L114.90,698.04 L116.30,697.24 L117.70,697.44 L119.10,696.97 L120.50,696.78 L121.90,696.93 L123.30,696.97 L124.70,696.34 L126.10,696.18 L127.50,696.43 L128.90,695.66 L130.30,695.32 L131.70,695.74 L133.10,695.14 L134.50,694.63 L135.90,694.71 L137.30,694.55 L138.70,694.06 L140.10,693.66 L141.50,693.78 L142.90,694.09 L144.30,692.93 L145.70,692.35 L147.10,692.51 L148.50,692.39 L149.90,691.21 L151.30,691.39 L152.70,691.44 L154.10,689.91 L155.50,689.23 L156.90,689.50 L158.30,689.00 L159.70,689.53 L161.10,687.39 L162.50,687.27 L163.90,686.79 L165.30,685.96 L166.70,686.48 L168.10,686.51 L169.50,685.03 L170.90,686.58 L172.30,685.32 L173.70,684.45 L175.10,683.46 L176.50,683.38 L177.90,680.36 L179.30,680.87 L180.70,679.65 L182.10,676.34 L183.50,676.53 L184.90,674.30 L186.30,674.18 L187.70,670.73 L189.10,668.82 L190.50,666.80 L191.90,661.84 L193.30,659.92 L194.70,654.96 L196.10,652.54 L197.50,647.02 L198.90,645.93 L200.30,640.28 L201.70,633.86 L203.10,631.08 L204.50,628.26 L205.90,625.27 L207.30,613.29 L208.70,612.80 L210.10,605.60 L211.50,596.87 L212.90,588.50 L214.30,588.50 L215.70,578.51 L217.10,579.18 L218.50,579.27 L219.90,570.46 L221.30,572.31 L222.70,573.23 L224.10,578.32 L225.50,582.47 L226.90,582.37 L228.30,571.40 L229.70,577.93 L231.10,590.41 L232.50,601.56 L233.90,602.82 L235.30,604.87 L236.70,610.88 L238.10,614.38 L239.50,619.28 L240.90,624.23 L242.30,631.92 L243.70,637.57 L245.10,642.68 L246.50,648.90 L247.90,654.11 L249.30,660.25 L250.70,668.14 L252.10,670.57 L253.50,673.96 L254.90,680.12 L256.30,681.48 L257.70,685.63 L259.10,684.94 L260.50,686.08 L261.90,686.80 L263.30,689.90 L264.70,691.46 L266.10,689.91 L267.50,690.70 L268.90,692.08 L270.30,691.76 L271.70,692.37 L273.10,692.75 L274.50,693.41 L275.90,694.46 L277.30,693.98 L278.70,694.93 L280.10,694.43 L281.50,694.99 L282.90,694.40 L284.30,694.67 L285.70,695.62" fill="none" stroke="#262626" stroke-width="1.1" stroke-linejoin="miter" stroke-miterlimit="3"/>
<text x="103.20" y="541.10" font-size="13.6" fill="#000" font-weight="bold" text-anchor="start" textLength="46.7" lengthAdjust="spacingAndGlyphs"  style="">Control</text>
<text x="103.20" y="559.30" font-size="13.6" fill="#ff1010" font-weight="bold" text-anchor="start" textLength="22.9" lengthAdjust="spacingAndGlyphs"  style="">Tcin</text>
<text x="103.20" y="577.60" font-size="13.6" fill="#1874c8" font-weight="bold" text-anchor="start" textLength="14.1" lengthAdjust="spacingAndGlyphs"  style="">T2</text>
<text x="103.20" y="596.30" font-size="13.6" fill="#22e022" font-weight="bold" text-anchor="start" textLength="25.2" lengthAdjust="spacingAndGlyphs"  style="">DAS</text>
<text x="126.20" y="738.40" font-size="16.3" fill="#000" font-weight="bold" text-anchor="start" textLength="117.0" lengthAdjust="spacingAndGlyphs"  style="">MitoTracker Red</text>
<path d="M417.10,527.20 H609.50 V700.60 H417.10 M422.60,527.20 V705.10" fill="none" stroke="#3c3ca8" stroke-width="1.3"/>
<line x1="417.10" y1="700.60" x2="422.60" y2="700.60" stroke="#3c3ca8" stroke-width="1.3" />
<line x1="417.10" y1="646.00" x2="422.60" y2="646.00" stroke="#3c3ca8" stroke-width="1.3" />
<line x1="417.10" y1="591.40" x2="422.60" y2="591.40" stroke="#3c3ca8" stroke-width="1.3" />
<line x1="417.10" y1="536.80" x2="422.60" y2="536.80" stroke="#3c3ca8" stroke-width="1.3" />
<line x1="430.28" y1="700.60" x2="430.28" y2="706.20" stroke="#3c3ca8" stroke-width="1.2" />
<line x1="445.30" y1="700.60" x2="445.30" y2="706.20" stroke="#3c3ca8" stroke-width="1.2" />
<line x1="455.96" y1="700.60" x2="455.96" y2="706.20" stroke="#3c3ca8" stroke-width="1.2" />
<line x1="464.22" y1="700.60" x2="464.22" y2="706.20" stroke="#3c3ca8" stroke-width="1.2" />
<line x1="470.98" y1="700.60" x2="470.98" y2="706.20" stroke="#3c3ca8" stroke-width="1.2" />
<line x1="476.69" y1="700.60" x2="476.69" y2="706.20" stroke="#3c3ca8" stroke-width="1.2" />
<line x1="481.63" y1="700.60" x2="481.63" y2="706.20" stroke="#3c3ca8" stroke-width="1.2" />
<line x1="486.00" y1="700.60" x2="486.00" y2="706.20" stroke="#3c3ca8" stroke-width="1.2" />
<line x1="489.90" y1="700.60" x2="489.90" y2="706.20" stroke="#3c3ca8" stroke-width="1.2" />
<line x1="515.58" y1="700.60" x2="515.58" y2="706.20" stroke="#3c3ca8" stroke-width="1.2" />
<line x1="530.60" y1="700.60" x2="530.60" y2="706.20" stroke="#3c3ca8" stroke-width="1.2" />
<line x1="541.26" y1="700.60" x2="541.26" y2="706.20" stroke="#3c3ca8" stroke-width="1.2" />
<line x1="549.52" y1="700.60" x2="549.52" y2="706.20" stroke="#3c3ca8" stroke-width="1.2" />
<line x1="556.28" y1="700.60" x2="556.28" y2="706.20" stroke="#3c3ca8" stroke-width="1.2" />
<line x1="561.99" y1="700.60" x2="561.99" y2="706.20" stroke="#3c3ca8" stroke-width="1.2" />
<line x1="566.93" y1="700.60" x2="566.93" y2="706.20" stroke="#3c3ca8" stroke-width="1.2" />
<line x1="571.30" y1="700.60" x2="571.30" y2="706.20" stroke="#3c3ca8" stroke-width="1.2" />
<line x1="575.20" y1="700.60" x2="575.20" y2="706.20" stroke="#3c3ca8" stroke-width="1.2" />
<line x1="600.88" y1="700.60" x2="600.88" y2="706.20" stroke="#3c3ca8" stroke-width="1.2" />
<text transform="translate(412.00,526.80) rotate(-90)" x="0" y="0" font-size="10" fill="#30309e" font-weight="bold" text-anchor="middle" textLength="21.0" lengthAdjust="spacingAndGlyphs" stroke="#30309e" stroke-width="0.15">1,600</text>
<text transform="translate(412.00,591.80) rotate(-90)" x="0" y="0" font-size="10" fill="#30309e" font-weight="bold" text-anchor="middle" textLength="21.0" lengthAdjust="spacingAndGlyphs" stroke="#30309e" stroke-width="0.15">1,000</text>
<text transform="translate(412.00,646.20) rotate(-90)" x="0" y="0" font-size="10" fill="#30309e" font-weight="bold" text-anchor="middle" textLength="14.8" lengthAdjust="spacingAndGlyphs" stroke="#30309e" stroke-width="0.15">500</text>
<text transform="translate(412.00,700.50) rotate(-90)" x="0" y="0" font-size="10" fill="#30309e" font-weight="bold" text-anchor="middle" textLength="4.5" lengthAdjust="spacingAndGlyphs" stroke="#30309e" stroke-width="0.15">0</text>
<text transform="translate(399.00,633.00) rotate(-90)" x="0" y="0" font-size="10.5" fill="#111" font-weight="bold" text-anchor="middle" textLength="28.0" lengthAdjust="spacingAndGlyphs" >Count</text>
<text x="412.70" y="717.50" font-size="6.2" fill="#3c3ca8" font-weight="bold" textLength="6.2" lengthAdjust="spacingAndGlyphs">10</text>
<text x="420.10" y="715.50" font-size="10.6" fill="#3c3ca8" font-weight="bold" textLength="12.4" lengthAdjust="spacingAndGlyphs">2.2</text>
<text x="483.55" y="717.50" font-size="6.2" fill="#3c3ca8" font-weight="bold" textLength="6.2" lengthAdjust="spacingAndGlyphs">10</text>
<text x="490.95" y="715.50" font-size="10.6" fill="#3c3ca8" font-weight="bold" textLength="5.3" lengthAdjust="spacingAndGlyphs">3</text>
<text x="568.85" y="717.50" font-size="6.2" fill="#3c3ca8" font-weight="bold" textLength="6.2" lengthAdjust="spacingAndGlyphs">10</text>
<text x="576.25" y="715.50" font-size="10.6" fill="#3c3ca8" font-weight="bold" textLength="5.3" lengthAdjust="spacingAndGlyphs">4</text>
<text x="599.60" y="717.50" font-size="6.2" fill="#3c3ca8" font-weight="bold" textLength="6.2" lengthAdjust="spacingAndGlyphs">10</text>
<text x="607.00" y="715.50" font-size="10.6" fill="#3c3ca8" font-weight="bold" textLength="12.4" lengthAdjust="spacingAndGlyphs">4.4</text>
<path d="M423.10,697.30 L424.50,697.39 L425.90,696.53 L427.30,695.87 L428.70,695.98 L430.10,693.44 L431.50,692.93 L432.90,691.93 L434.30,691.68 L435.70,692.06 L437.10,690.29 L438.50,690.20 L439.90,688.12 L441.30,688.54 L442.70,687.26 L444.10,689.21 L445.50,687.33 L446.90,686.55 L448.30,684.25 L449.70,683.98 L451.10,682.48 L452.50,679.21 L453.90,676.68 L455.30,674.34 L456.70,671.37 L458.10,668.83 L459.50,666.44 L460.90,663.32 L462.30,662.57 L463.70,656.40 L465.10,656.13 L466.50,649.84 L467.90,645.88 L469.30,640.99 L470.70,638.30 L472.10,634.33 L473.50,630.85 L474.90,624.42 L476.30,618.33 L477.70,616.12 L479.10,604.71 L480.50,596.29 L481.90,594.35 L483.30,585.11 L484.70,581.51 L486.10,575.41 L487.50,567.77 L488.90,563.39 L490.30,564.50 L491.70,566.17 L493.10,562.81 L494.50,564.91 L495.90,567.48 L497.30,564.04 L498.70,571.28 L500.10,575.55 L501.50,578.96 L502.90,586.01 L504.30,592.40 L505.70,602.42 L507.10,604.17 L508.50,612.72 L509.90,626.76 L511.30,634.46 L512.70,642.56 L514.10,653.67 L515.50,665.99 L516.90,673.63 L518.30,678.04 L519.70,682.80 L521.10,686.51 L522.50,688.32 L523.90,689.82 L525.30,691.69 L526.70,693.09 L528.10,692.67 L529.50,693.44 L530.90,692.79 L532.30,693.09 L533.70,694.02 L535.10,694.66 L536.50,694.93 L537.90,695.01 L539.30,695.36 L540.70,695.54 L542.10,694.43 L543.50,694.92 L544.90,695.68 L546.30,695.93 L547.70,695.10 L549.10,696.65 L550.50,695.74 L551.90,695.94 L553.30,696.36 L554.70,696.84 L556.10,695.98 L557.50,697.25 L558.90,696.70 L560.30,696.54 L561.70,696.79 L563.10,696.42 L564.50,696.91 L565.90,697.31 L567.30,697.10 L568.70,697.30 L570.10,697.44 L571.50,697.60 L572.90,698.32 L574.30,697.75 L575.70,697.78 L577.10,698.26 L578.50,699.23 L579.90,698.02 L581.30,698.49 L582.70,697.91 L584.10,699.13 L585.50,698.82 L586.90,699.27 L588.30,698.59 L589.70,698.45 L591.10,699.23 L592.50,699.23 L593.90,698.73 L595.30,698.68 L596.70,699.28 L598.10,699.09 L599.50,700.17 L600.90,699.14 L602.30,699.22 L603.70,699.36 L605.10,699.13 L606.50,699.34 L607.90,700.29" fill="none" stroke="#33d633" stroke-width="1.1" stroke-linejoin="miter" stroke-miterlimit="3"/>
<path d="M423.10,699.20 L424.50,697.26 L425.90,698.03 L427.30,697.05 L428.70,697.53 L430.10,696.42 L431.50,697.10 L432.90,695.19 L434.30,694.48 L435.70,694.64 L437.10,693.97 L438.50,692.85 L439.90,692.28 L441.30,692.48 L442.70,691.82 L444.10,690.16 L445.50,689.47 L446.90,688.02 L448.30,690.09 L449.70,687.11 L451.10,688.05 L452.50,685.97 L453.90,687.11 L455.30,685.61 L456.70,682.82 L458.10,683.35 L459.50,679.22 L460.90,680.29 L462.30,675.60 L463.70,674.86 L465.10,673.37 L466.50,668.75 L467.90,664.85 L469.30,661.29 L470.70,658.29 L472.10,657.41 L473.50,653.44 L474.90,647.28 L476.30,642.19 L477.70,640.90 L479.10,633.22 L480.50,629.86 L481.90,625.45 L483.30,624.31 L484.70,618.57 L486.10,615.25 L487.50,611.19 L488.90,606.76 L490.30,607.03 L491.70,607.84 L493.10,601.32 L494.50,601.81 L495.90,598.03 L497.30,600.19 L498.70,597.46 L500.10,596.78 L501.50,593.87 L502.90,597.67 L504.30,591.44 L505.70,591.82 L507.10,592.14 L508.50,595.97 L509.90,594.15 L511.30,596.35 L512.70,603.49 L514.10,609.73 L515.50,613.12 L516.90,614.40 L518.30,622.27 L519.70,629.38 L521.10,636.56 L522.50,645.30 L523.90,657.89 L525.30,660.50 L526.70,665.91 L528.10,672.96 L529.50,675.86 L530.90,678.32 L532.30,679.38 L533.70,681.06 L535.10,682.60 L536.50,681.61 L537.90,682.41 L539.30,685.35 L540.70,685.47 L542.10,684.48 L543.50,684.63 L544.90,685.50 L546.30,685.45 L547.70,686.43 L549.10,689.33 L550.50,688.18 L551.90,690.08 L553.30,689.13 L554.70,689.91 L556.10,690.66 L557.50,687.10 L558.90,686.42 L560.30,686.35 L561.70,686.99 L563.10,688.95 L564.50,688.36 L565.90,687.41 L567.30,688.68 L568.70,689.11 L570.10,689.81 L571.50,693.02 L572.90,691.07 L574.30,692.45 L575.70,692.71 L577.10,694.57 L578.50,694.89 L579.90,695.46 L581.30,696.05 L582.70,697.51 L584.10,696.96 L585.50,697.44 L586.90,697.75 L588.30,699.16 L589.70,698.68 L591.10,698.84 L592.50,699.22 L593.90,700.40 L595.30,699.58 L596.70,700.04 L598.10,699.93 L599.50,699.79 L600.90,699.74 L602.30,699.84 L603.70,699.88 L605.10,699.65 L606.50,700.60 L607.90,700.36" fill="none" stroke="#2626bc" stroke-width="1.1" stroke-linejoin="miter" stroke-miterlimit="3"/>
<path d="M423.10,699.91 L424.50,699.42 L425.90,699.29 L427.30,699.18 L428.70,699.43 L430.10,700.01 L431.50,699.37 L432.90,699.52 L434.30,699.68 L435.70,698.89 L437.10,699.99 L438.50,698.64 L439.90,698.89 L441.30,699.66 L442.70,698.36 L444.10,698.29 L445.50,697.93 L446.90,698.08 L448.30,697.17 L449.70,697.32 L451.10,698.42 L452.50,697.18 L453.90,696.63 L455.30,696.57 L456.70,696.13 L458.10,695.39 L459.50,695.17 L460.90,693.43 L462.30,693.90 L463.70,692.36 L465.10,692.67 L466.50,691.09 L467.90,689.78 L469.30,689.15 L470.70,687.52 L472.10,688.03 L473.50,685.43 L474.90,685.30 L476.30,682.21 L477.70,683.92 L479.10,680.01 L480.50,680.95 L481.90,678.77 L483.30,675.20 L484.70,674.99 L486.10,672.51 L487.50,672.04 L488.90,672.31 L490.30,669.27 L491.70,668.31 L493.10,663.49 L494.50,662.53 L495.90,660.53 L497.30,660.88 L498.70,657.96 L500.10,659.73 L501.50,659.43 L502.90,657.18 L504.30,657.60 L505.70,659.45 L507.10,657.21 L508.50,656.65 L509.90,659.02 L511.30,656.46 L512.70,653.42 L514.10,651.08 L515.50,647.36 L516.90,644.20 L518.30,641.62 L519.70,640.45 L521.10,640.26 L522.50,633.60 L523.90,631.54 L525.30,629.15 L526.70,626.03 L528.10,626.46 L529.50,626.65 L530.90,621.59 L532.30,623.46 L533.70,618.65 L535.10,621.42 L536.50,620.33 L537.90,614.48 L539.30,609.96 L540.70,605.04 L542.10,599.94 L543.50,597.63 L544.90,597.24 L546.30,600.64 L547.70,594.25 L549.10,592.21 L550.50,588.16 L551.90,588.54 L553.30,586.85 L554.70,592.37 L556.10,594.32 L557.50,602.03 L558.90,613.10 L560.30,622.43 L561.70,633.79 L563.10,640.55 L564.50,646.93 L565.90,655.72 L567.30,664.38 L568.70,672.59 L570.10,675.99 L571.50,683.13 L572.90,684.70 L574.30,687.37 L575.70,688.73 L577.10,691.88 L578.50,691.90 L579.90,692.98 L581.30,694.95 L582.70,694.73 L584.10,695.32 L585.50,696.88 L586.90,696.66 L588.30,697.83 L589.70,697.54 L591.10,698.46 L592.50,698.96 L593.90,698.65 L595.30,699.76 L596.70,698.88 L598.10,699.08 L599.50,699.30 L600.90,699.87 L602.30,699.46 L603.70,699.54 L605.10,699.81 L606.50,700.29 L607.90,699.72" fill="none" stroke="#cc2a2a" stroke-width="1.1" stroke-linejoin="miter" stroke-miterlimit="3"/>
<path d="M423.10,699.88 L424.50,699.96 L425.90,700.25 L427.30,700.02 L428.70,700.30 L430.10,700.40 L431.50,699.88 L432.90,700.48 L434.30,700.00 L435.70,700.60 L437.10,700.36 L438.50,700.00 L439.90,700.15 L441.30,700.15 L442.70,700.19 L444.10,700.59 L445.50,700.26 L446.90,700.60 L448.30,700.28 L449.70,700.01 L451.10,699.79 L452.50,699.77 L453.90,700.09 L455.30,700.27 L456.70,700.55 L458.10,699.88 L459.50,699.99 L460.90,699.82 L462.30,699.87 L463.70,699.60 L465.10,700.20 L466.50,699.77 L467.90,699.86 L469.30,700.04 L470.70,699.98 L472.10,699.60 L473.50,700.43 L474.90,700.10 L476.30,699.97 L477.70,699.62 L479.10,699.44 L480.50,699.40 L481.90,699.62 L483.30,699.71 L484.70,699.48 L486.10,700.37 L487.50,699.49 L488.90,699.55 L490.30,699.13 L491.70,697.89 L493.10,698.24 L494.50,697.32 L495.90,696.03 L497.30,696.35 L498.70,696.04 L500.10,695.29 L501.50,694.60 L502.90,692.17 L504.30,691.58 L505.70,690.28 L507.10,689.26 L508.50,687.50 L509.90,686.58 L511.30,683.24 L512.70,678.08 L514.10,676.63 L515.50,675.27 L516.90,669.12 L518.30,660.20 L519.70,652.36 L521.10,644.89 L522.50,636.16 L523.90,630.62 L525.30,622.39 L526.70,619.67 L528.10,613.08 L529.50,604.42 L530.90,595.96 L532.30,591.02 L533.70,581.76 L535.10,575.74 L536.50,575.35 L537.90,565.23 L539.30,561.91 L540.70,567.36 L542.10,572.00 L543.50,572.57 L544.90,571.60 L546.30,578.78 L547.70,573.06 L549.10,582.42 L550.50,583.05 L551.90,575.64 L553.30,578.53 L554.70,578.29 L556.10,584.20 L557.50,593.04 L558.90,595.42 L560.30,604.08 L561.70,611.59 L563.10,617.57 L564.50,627.54 L565.90,638.08 L567.30,641.42 L568.70,652.20 L570.10,662.38 L571.50,666.85 L572.90,672.43 L574.30,676.47 L575.70,682.19 L577.10,685.31 L578.50,686.03 L579.90,689.26 L581.30,689.70 L582.70,689.66 L584.10,689.36 L585.50,689.56 L586.90,690.58 L588.30,691.42 L589.70,691.20 L591.10,691.44 L592.50,691.74 L593.90,692.96 L595.30,691.94 L596.70,692.89 L598.10,693.49 L599.50,694.46 L600.90,694.84 L602.30,694.52 L603.70,694.81 L605.10,695.02 L606.50,696.72 L607.90,696.65" fill="none" stroke="#262626" stroke-width="1.1" stroke-linejoin="miter" stroke-miterlimit="3"/>
<text x="496.90" y="738.40" font-size="17.0" fill="#000" font-weight="bold" text-anchor="start" textLength="67.0" lengthAdjust="spacingAndGlyphs"  style="">DCFH-DA</text>
<line x1="66.00" y1="253.70" x2="66.00" y2="461.50" stroke="#c4c4c4" stroke-width="1" />
<line x1="66.00" y1="457.00" x2="333.60" y2="457.00" stroke="#c4c4c4" stroke-width="1" />
<line x1="61.40" y1="457.00" x2="66.00" y2="457.00" stroke="#c4c4c4" stroke-width="1" />
<line x1="61.40" y1="423.12" x2="66.00" y2="423.12" stroke="#c4c4c4" stroke-width="1" />
<line x1="61.40" y1="389.23" x2="66.00" y2="389.23" stroke="#c4c4c4" stroke-width="1" />
<line x1="61.40" y1="355.35" x2="66.00" y2="355.35" stroke="#c4c4c4" stroke-width="1" />
<line x1="61.40" y1="321.47" x2="66.00" y2="321.47" stroke="#c4c4c4" stroke-width="1" />
<line x1="61.40" y1="287.58" x2="66.00" y2="287.58" stroke="#c4c4c4" stroke-width="1" />
<line x1="61.40" y1="253.70" x2="66.00" y2="253.70" stroke="#c4c4c4" stroke-width="1" />
<line x1="66.00" y1="457.00" x2="66.00" y2="461.50" stroke="#c4c4c4" stroke-width="1" />
<line x1="133.00" y1="457.00" x2="133.00" y2="461.50" stroke="#c4c4c4" stroke-width="1" />
<line x1="199.80" y1="457.00" x2="199.80" y2="461.50" stroke="#c4c4c4" stroke-width="1" />
<line x1="266.40" y1="457.00" x2="266.40" y2="461.50" stroke="#c4c4c4" stroke-width="1" />
<line x1="333.60" y1="457.00" x2="333.60" y2="461.50" stroke="#c4c4c4" stroke-width="1" />
<text x="51.90" y="461.30" font-size="12.3" fill="#000" font-weight="bold" text-anchor="end" textLength="6.5" lengthAdjust="spacingAndGlyphs"  style="">0</text>
<text x="51.90" y="427.42" font-size="12.3" fill="#000" font-weight="bold" text-anchor="end" textLength="12.9" lengthAdjust="spacingAndGlyphs"  style="">20</text>
<text x="51.90" y="393.53" font-size="12.3" fill="#000" font-weight="bold" text-anchor="end" textLength="12.9" lengthAdjust="spacingAndGlyphs"  style="">40</text>
<text x="51.90" y="359.65" font-size="12.3" fill="#000" font-weight="bold" text-anchor="end" textLength="12.9" lengthAdjust="spacingAndGlyphs"  style="">60</text>
<text x="51.90" y="325.77" font-size="12.3" fill="#000" font-weight="bold" text-anchor="end" textLength="12.9" lengthAdjust="spacingAndGlyphs"  style="">80</text>
<text x="51.90" y="291.88" font-size="12.3" fill="#000" font-weight="bold" text-anchor="end" textLength="19.4" lengthAdjust="spacingAndGlyphs"  style="">100</text>
<text x="51.90" y="258.00" font-size="12.3" fill="#000" font-weight="bold" text-anchor="end" textLength="19.4" lengthAdjust="spacingAndGlyphs"  style="">120</text>
<rect x="85.90" y="288.20" width="27.10" height="168.80" fill="#0a0a0a" />
<rect x="85.90" y="288.20" width="0.90" height="168.80" fill="#000" />
<rect x="112.10" y="288.20" width="0.90" height="168.80" fill="#000" />
<rect x="85.90" y="288.20" width="27.10" height="1.60" fill="#222" />
<line x1="99.40" y1="286.30" x2="99.40" y2="288.50" stroke="#000" stroke-opacity="0.55" stroke-width="1"/>
<line x1="98.20" y1="286.30" x2="100.60" y2="286.30" stroke="#000" stroke-opacity="0.7" stroke-width="1.2"/>
<line x1="98.20" y1="288.50" x2="100.60" y2="288.50" stroke="#000" stroke-opacity="0.7" stroke-width="1.2"/>
<rect x="152.90" y="382.10" width="27.00" height="74.90" fill="#ff0a0a" />
<rect x="152.90" y="382.10" width="0.90" height="74.90" fill="#d80000" />
<rect x="179.00" y="382.10" width="0.90" height="74.90" fill="#d80000" />
<rect x="152.90" y="382.10" width="27.00" height="1.60" fill="#ff4a4a" />
<line x1="166.40" y1="380.50" x2="166.40" y2="382.50" stroke="#000" stroke-opacity="0.55" stroke-width="1"/>
<line x1="165.20" y1="380.50" x2="167.60" y2="380.50" stroke="#000" stroke-opacity="0.7" stroke-width="1.2"/>
<line x1="165.20" y1="382.50" x2="167.60" y2="382.50" stroke="#000" stroke-opacity="0.7" stroke-width="1.2"/>
<rect x="219.80" y="420.50" width="27.50" height="36.50" fill="#0b6fc6" />
<rect x="219.80" y="420.50" width="0.90" height="36.50" fill="#0a5ca8" />
<rect x="246.40" y="420.50" width="0.90" height="36.50" fill="#0a5ca8" />
<rect x="219.80" y="420.50" width="27.50" height="1.60" fill="#3a9ae8" />
<line x1="233.50" y1="418.00" x2="233.50" y2="421.80" stroke="#000" stroke-opacity="0.55" stroke-width="1"/>
<line x1="232.30" y1="418.00" x2="234.70" y2="418.00" stroke="#000" stroke-opacity="0.7" stroke-width="1.2"/>
<line x1="232.30" y1="421.80" x2="234.70" y2="421.80" stroke="#000" stroke-opacity="0.7" stroke-width="1.2"/>
<rect x="286.60" y="431.00" width="27.40" height="26.00" fill="#98d85a" />
<rect x="286.60" y="431.00" width="0.90" height="26.00" fill="#80c048" />
<rect x="313.10" y="431.00" width="0.90" height="26.00" fill="#80c048" />
<rect x="286.60" y="431.00" width="27.40" height="1.60" fill="#b8f080" />
<line x1="300.30" y1="429.80" x2="300.30" y2="431.20" stroke="#000" stroke-opacity="0.55" stroke-width="1"/>
<line x1="299.10" y1="429.80" x2="301.50" y2="429.80" stroke="#000" stroke-opacity="0.7" stroke-width="1.2"/>
<line x1="299.10" y1="431.20" x2="301.50" y2="431.20" stroke="#000" stroke-opacity="0.7" stroke-width="1.2"/>
<text transform="translate(29.00,354.80) rotate(-90)" x="0" y="0" font-size="14.6" fill="#000" font-weight="bold" text-anchor="middle" textLength="208.0" lengthAdjust="spacingAndGlyphs" >Relative Median Fluorescence%</text>
<text x="76.40" y="474.00" font-size="11.8" fill="#000" font-weight="bold" text-anchor="start" textLength="41.0" lengthAdjust="spacingAndGlyphs"  style="">Control</text>
<text x="153.9" y="474.0" font-size="11.8" font-weight="bold" textLength="27.7" lengthAdjust="spacingAndGlyphs">H<tspan font-size="8.5" dy="0.8">2</tspan><tspan dy="-0.8">O</tspan><tspan font-size="8.5" dy="0.8">2</tspan></text>
<text x="219.80" y="474.00" font-size="11.8" fill="#000" font-weight="bold" text-anchor="start" textLength="28.7" lengthAdjust="spacingAndGlyphs"  style="">CCCP</text>
<text x="289.70" y="474.00" font-size="11.8" fill="#000" font-weight="bold" text-anchor="start" textLength="24.6" lengthAdjust="spacingAndGlyphs"  style="">rho°</text>
<line x1="409.10" y1="257.40" x2="409.10" y2="461.70" stroke="#c4c4c4" stroke-width="1" />
<line x1="409.10" y1="457.20" x2="665.40" y2="457.20" stroke="#c4c4c4" stroke-width="1" />
<line x1="404.50" y1="457.20" x2="409.10" y2="457.20" stroke="#c4c4c4" stroke-width="1" />
<line x1="404.50" y1="417.24" x2="409.10" y2="417.24" stroke="#c4c4c4" stroke-width="1" />
<line x1="404.50" y1="377.28" x2="409.10" y2="377.28" stroke="#c4c4c4" stroke-width="1" />
<line x1="404.50" y1="337.32" x2="409.10" y2="337.32" stroke="#c4c4c4" stroke-width="1" />
<line x1="404.50" y1="297.36" x2="409.10" y2="297.36" stroke="#c4c4c4" stroke-width="1" />
<line x1="404.50" y1="257.40" x2="409.10" y2="257.40" stroke="#c4c4c4" stroke-width="1" />
<line x1="409.10" y1="457.20" x2="409.10" y2="461.70" stroke="#c4c4c4" stroke-width="1" />
<line x1="495.00" y1="457.20" x2="495.00" y2="461.70" stroke="#c4c4c4" stroke-width="1" />
<line x1="580.10" y1="457.20" x2="580.10" y2="461.70" stroke="#c4c4c4" stroke-width="1" />
<line x1="665.40" y1="457.20" x2="665.40" y2="461.70" stroke="#c4c4c4" stroke-width="1" />
<text x="396.00" y="461.50" font-size="12.7" fill="#000" font-weight="bold" text-anchor="end" textLength="6.9" lengthAdjust="spacingAndGlyphs"  style="">0</text>
<text x="396.00" y="421.54" font-size="12.7" fill="#000" font-weight="bold" text-anchor="end" textLength="20.7" lengthAdjust="spacingAndGlyphs"  style="">400</text>
<text x="396.00" y="381.58" font-size="12.7" fill="#000" font-weight="bold" text-anchor="end" textLength="20.7" lengthAdjust="spacingAndGlyphs"  style="">800</text>
<text x="396.00" y="341.62" font-size="12.7" fill="#000" font-weight="bold" text-anchor="end" textLength="27.6" lengthAdjust="spacingAndGlyphs"  style="">1200</text>
<text x="396.00" y="301.66" font-size="12.7" fill="#000" font-weight="bold" text-anchor="end" textLength="27.6" lengthAdjust="spacingAndGlyphs"  style="">1600</text>
<text x="396.00" y="261.70" font-size="12.7" fill="#000" font-weight="bold" text-anchor="end" textLength="27.6" lengthAdjust="spacingAndGlyphs"  style="">2000</text>
<rect x="437.90" y="447.90" width="29.10" height="9.30" fill="#0a0a0a" />
<rect x="437.90" y="447.90" width="0.90" height="9.30" fill="#000" />
<rect x="466.10" y="447.90" width="0.90" height="9.30" fill="#000" />
<rect x="437.90" y="447.90" width="29.10" height="1.60" fill="#222" />
<line x1="452.40" y1="446.00" x2="452.40" y2="448.50" stroke="#000" stroke-opacity="0.55" stroke-width="1"/>
<line x1="451.20" y1="446.00" x2="453.60" y2="446.00" stroke="#000" stroke-opacity="0.7" stroke-width="1.2"/>
<line x1="451.20" y1="448.50" x2="453.60" y2="448.50" stroke="#000" stroke-opacity="0.7" stroke-width="1.2"/>
<rect x="523.30" y="312.20" width="29.20" height="145.00" fill="#ff0a0a" />
<rect x="523.30" y="312.20" width="0.90" height="145.00" fill="#d80000" />
<rect x="551.60" y="312.20" width="0.90" height="145.00" fill="#d80000" />
<rect x="523.30" y="312.20" width="29.20" height="1.60" fill="#ff4a4a" />
<line x1="537.20" y1="299.70" x2="537.20" y2="323.40" stroke="#000" stroke-opacity="0.55" stroke-width="1"/>
<line x1="536.00" y1="299.70" x2="538.40" y2="299.70" stroke="#000" stroke-opacity="0.7" stroke-width="1.2"/>
<line x1="536.00" y1="323.40" x2="538.40" y2="323.40" stroke="#000" stroke-opacity="0.7" stroke-width="1.2"/>
<rect x="608.60" y="421.00" width="29.20" height="36.20" fill="#98d85a" />
<rect x="608.60" y="421.00" width="0.90" height="36.20" fill="#80c048" />
<rect x="636.90" y="421.00" width="0.90" height="36.20" fill="#80c048" />
<rect x="608.60" y="421.00" width="29.20" height="1.60" fill="#b8f080" />
<line x1="623.00" y1="415.60" x2="623.00" y2="424.00" stroke="#000" stroke-opacity="0.55" stroke-width="1"/>
<line x1="621.80" y1="415.60" x2="624.20" y2="415.60" stroke="#000" stroke-opacity="0.7" stroke-width="1.2"/>
<line x1="621.80" y1="424.00" x2="624.20" y2="424.00" stroke="#000" stroke-opacity="0.7" stroke-width="1.2"/>
<text transform="translate(363.40,358.20) rotate(-90)" x="0" y="0" font-size="14.9" fill="#000" font-weight="bold" text-anchor="middle" textLength="213.4" lengthAdjust="spacingAndGlyphs" >Relative Median Fluorescence%</text>
<text x="430.40" y="475.60" font-size="11.8" fill="#000" font-weight="bold" text-anchor="start" textLength="43.5" lengthAdjust="spacingAndGlyphs"  style="">Control</text>
<text x="525.9" y="475.6" font-size="11.8" font-weight="bold" textLength="27.6" lengthAdjust="spacingAndGlyphs">H<tspan font-size="8.5" dy="0.8">2</tspan><tspan dy="-0.8">O</tspan><tspan font-size="8.5" dy="0.8">2</tspan></text>
<text x="613.20" y="475.60" font-size="11.8" fill="#000" font-weight="bold" text-anchor="start" textLength="25.4" lengthAdjust="spacingAndGlyphs"  style="">rho°</text>
<line x1="61.10" y1="754.90" x2="61.10" y2="952.80" stroke="#c4c4c4" stroke-width="1" />
<line x1="61.10" y1="948.30" x2="335.30" y2="948.30" stroke="#c4c4c4" stroke-width="1" />
<line x1="56.50" y1="948.30" x2="61.10" y2="948.30" stroke="#c4c4c4" stroke-width="1" />
<line x1="56.50" y1="916.07" x2="61.10" y2="916.07" stroke="#c4c4c4" stroke-width="1" />
<line x1="56.50" y1="883.83" x2="61.10" y2="883.83" stroke="#c4c4c4" stroke-width="1" />
<line x1="56.50" y1="851.60" x2="61.10" y2="851.60" stroke="#c4c4c4" stroke-width="1" />
<line x1="56.50" y1="819.37" x2="61.10" y2="819.37" stroke="#c4c4c4" stroke-width="1" />
<line x1="56.50" y1="787.13" x2="61.10" y2="787.13" stroke="#c4c4c4" stroke-width="1" />
<line x1="56.50" y1="754.90" x2="61.10" y2="754.90" stroke="#c4c4c4" stroke-width="1" />
<line x1="61.10" y1="948.30" x2="61.10" y2="952.80" stroke="#c4c4c4" stroke-width="1" />
<line x1="129.60" y1="948.30" x2="129.60" y2="952.80" stroke="#c4c4c4" stroke-width="1" />
<line x1="198.50" y1="948.30" x2="198.50" y2="952.80" stroke="#c4c4c4" stroke-width="1" />
<line x1="267.00" y1="948.30" x2="267.00" y2="952.80" stroke="#c4c4c4" stroke-width="1" />
<line x1="335.30" y1="948.30" x2="335.30" y2="952.80" stroke="#c4c4c4" stroke-width="1" />
<text x="47.20" y="952.60" font-size="12.6" fill="#000" font-weight="bold" text-anchor="end" textLength="6.8" lengthAdjust="spacingAndGlyphs"  style="">0</text>
<text x="47.20" y="920.37" font-size="12.6" fill="#000" font-weight="bold" text-anchor="end" textLength="13.6" lengthAdjust="spacingAndGlyphs"  style="">20</text>
<text x="47.20" y="888.13" font-size="12.6" fill="#000" font-weight="bold" text-anchor="end" textLength="13.6" lengthAdjust="spacingAndGlyphs"  style="">40</text>
<text x="47.20" y="855.90" font-size="12.6" fill="#000" font-weight="bold" text-anchor="end" textLength="13.6" lengthAdjust="spacingAndGlyphs"  style="">60</text>
<text x="47.20" y="823.67" font-size="12.6" fill="#000" font-weight="bold" text-anchor="end" textLength="13.6" lengthAdjust="spacingAndGlyphs"  style="">80</text>
<text x="47.20" y="791.43" font-size="12.6" fill="#000" font-weight="bold" text-anchor="end" textLength="20.4" lengthAdjust="spacingAndGlyphs"  style="">100</text>
<text x="47.20" y="759.20" font-size="12.6" fill="#000" font-weight="bold" text-anchor="end" textLength="20.4" lengthAdjust="spacingAndGlyphs"  style="">120</text>
<rect x="84.00" y="787.80" width="22.90" height="160.50" fill="#0a0a0a" />
<rect x="84.00" y="787.80" width="0.90" height="160.50" fill="#000" />
<rect x="106.00" y="787.80" width="0.90" height="160.50" fill="#000" />
<rect x="84.00" y="787.80" width="22.90" height="1.60" fill="#222" />
<line x1="95.40" y1="783.50" x2="95.40" y2="789.00" stroke="#000" stroke-opacity="0.55" stroke-width="1"/>
<line x1="94.20" y1="783.50" x2="96.60" y2="783.50" stroke="#000" stroke-opacity="0.7" stroke-width="1.2"/>
<line x1="94.20" y1="789.00" x2="96.60" y2="789.00" stroke="#000" stroke-opacity="0.7" stroke-width="1.2"/>
<rect x="152.20" y="869.20" width="23.70" height="79.10" fill="#ff0a0a" />
<rect x="152.20" y="869.20" width="0.90" height="79.10" fill="#d80000" />
<rect x="175.00" y="869.20" width="0.90" height="79.10" fill="#d80000" />
<rect x="152.20" y="869.20" width="23.70" height="1.60" fill="#ff4a4a" />
<line x1="163.70" y1="859.60" x2="163.70" y2="877.30" stroke="#000" stroke-opacity="0.55" stroke-width="1"/>
<line x1="162.50" y1="859.60" x2="164.90" y2="859.60" stroke="#000" stroke-opacity="0.7" stroke-width="1.2"/>
<line x1="162.50" y1="877.30" x2="164.90" y2="877.30" stroke="#000" stroke-opacity="0.7" stroke-width="1.2"/>
<rect x="221.40" y="915.50" width="23.00" height="32.80" fill="#0b6fc6" />
<rect x="221.40" y="915.50" width="0.90" height="32.80" fill="#0a5ca8" />
<rect x="243.50" y="915.50" width="0.90" height="32.80" fill="#0a5ca8" />
<rect x="221.40" y="915.50" width="23.00" height="1.60" fill="#3a9ae8" />
<line x1="232.90" y1="913.80" x2="232.90" y2="916.20" stroke="#000" stroke-opacity="0.55" stroke-width="1"/>
<line x1="231.70" y1="913.80" x2="234.10" y2="913.80" stroke="#000" stroke-opacity="0.7" stroke-width="1.2"/>
<line x1="231.70" y1="916.20" x2="234.10" y2="916.20" stroke="#000" stroke-opacity="0.7" stroke-width="1.2"/>
<rect x="290.00" y="921.50" width="23.30" height="26.80" fill="#98d85a" />
<rect x="290.00" y="921.50" width="0.90" height="26.80" fill="#80c048" />
<rect x="312.40" y="921.50" width="0.90" height="26.80" fill="#80c048" />
<rect x="290.00" y="921.50" width="23.30" height="1.60" fill="#b8f080" />
<line x1="301.60" y1="917.70" x2="301.60" y2="924.40" stroke="#000" stroke-opacity="0.55" stroke-width="1"/>
<line x1="300.40" y1="917.70" x2="302.80" y2="917.70" stroke="#000" stroke-opacity="0.7" stroke-width="1.2"/>
<line x1="300.40" y1="924.40" x2="302.80" y2="924.40" stroke="#000" stroke-opacity="0.7" stroke-width="1.2"/>
<text transform="translate(22.00,856.00) rotate(-90)" x="0" y="0" font-size="15.0" fill="#000" font-weight="bold" text-anchor="middle" textLength="215.0" lengthAdjust="spacingAndGlyphs" >Relative Median Fluorescence%</text>
<text x="73.50" y="970.40" font-size="12.2" fill="#000" font-weight="bold" text-anchor="start" textLength="43.0" lengthAdjust="spacingAndGlyphs"  style="">Control</text>
<text x="134.30" y="970.40" font-size="12.2" fill="#000" font-weight="bold" text-anchor="start" textLength="58.4" lengthAdjust="spacingAndGlyphs"  style="">4 µM Tcin</text>
<text x="201.20" y="970.40" font-size="12.2" fill="#000" font-weight="bold" text-anchor="start" textLength="62.5" lengthAdjust="spacingAndGlyphs"  style="">215 µM T2</text>
<text x="278.90" y="970.40" font-size="12.2" fill="#000" font-weight="bold" text-anchor="start" textLength="44.5" lengthAdjust="spacingAndGlyphs"  style="">300 µM</text>
<text x="289.00" y="988.60" font-size="12.6" fill="#000" font-weight="bold" text-anchor="start" textLength="23.6" lengthAdjust="spacingAndGlyphs"  style="">DAS</text>
<line x1="398.60" y1="756.60" x2="398.60" y2="952.90" stroke="#c4c4c4" stroke-width="1" />
<line x1="398.60" y1="948.40" x2="671.80" y2="948.40" stroke="#c4c4c4" stroke-width="1" />
<line x1="394.00" y1="948.40" x2="398.60" y2="948.40" stroke="#c4c4c4" stroke-width="1" />
<line x1="394.00" y1="884.47" x2="398.60" y2="884.47" stroke="#c4c4c4" stroke-width="1" />
<line x1="394.00" y1="820.53" x2="398.60" y2="820.53" stroke="#c4c4c4" stroke-width="1" />
<line x1="394.00" y1="756.60" x2="398.60" y2="756.60" stroke="#c4c4c4" stroke-width="1" />
<line x1="398.60" y1="948.40" x2="398.60" y2="952.90" stroke="#c4c4c4" stroke-width="1" />
<line x1="467.60" y1="948.40" x2="467.60" y2="952.90" stroke="#c4c4c4" stroke-width="1" />
<line x1="535.50" y1="948.40" x2="535.50" y2="952.90" stroke="#c4c4c4" stroke-width="1" />
<line x1="603.50" y1="948.40" x2="603.50" y2="952.90" stroke="#c4c4c4" stroke-width="1" />
<line x1="671.80" y1="948.40" x2="671.80" y2="952.90" stroke="#c4c4c4" stroke-width="1" />
<text x="384.90" y="952.70" font-size="12.6" fill="#000" font-weight="bold" text-anchor="end" textLength="6.7" lengthAdjust="spacingAndGlyphs"  style="">0</text>
<text x="384.90" y="888.77" font-size="12.6" fill="#000" font-weight="bold" text-anchor="end" textLength="13.4" lengthAdjust="spacingAndGlyphs"  style="">50</text>
<text x="384.90" y="824.83" font-size="12.6" fill="#000" font-weight="bold" text-anchor="end" textLength="20.1" lengthAdjust="spacingAndGlyphs"  style="">100</text>
<text x="384.90" y="760.90" font-size="12.6" fill="#000" font-weight="bold" text-anchor="end" textLength="20.1" lengthAdjust="spacingAndGlyphs"  style="">150</text>
<rect x="419.80" y="821.10" width="26.70" height="127.30" fill="#0a0a0a" />
<rect x="419.80" y="821.10" width="0.90" height="127.30" fill="#000" />
<rect x="445.60" y="821.10" width="0.90" height="127.30" fill="#000" />
<rect x="419.80" y="821.10" width="26.70" height="1.60" fill="#222" />
<line x1="433.00" y1="779.60" x2="433.00" y2="862.00" stroke="#000" stroke-opacity="0.3" stroke-width="1"/>
<line x1="431.80" y1="779.60" x2="434.20" y2="779.60" stroke="#000" stroke-opacity="0.7" stroke-width="1.2"/>
<line x1="431.80" y1="862.00" x2="434.20" y2="862.00" stroke="#000" stroke-opacity="0.7" stroke-width="1.2"/>
<rect x="487.80" y="848.30" width="27.20" height="100.10" fill="#ff0a0a" />
<rect x="487.80" y="848.30" width="0.90" height="100.10" fill="#d80000" />
<rect x="514.10" y="848.30" width="0.90" height="100.10" fill="#d80000" />
<rect x="487.80" y="848.30" width="27.20" height="1.60" fill="#ff4a4a" />
<line x1="501.00" y1="836.20" x2="501.00" y2="859.70" stroke="#000" stroke-opacity="0.3" stroke-width="1"/>
<line x1="499.80" y1="836.20" x2="502.20" y2="836.20" stroke="#000" stroke-opacity="0.7" stroke-width="1.2"/>
<line x1="499.80" y1="859.70" x2="502.20" y2="859.70" stroke="#000" stroke-opacity="0.7" stroke-width="1.2"/>
<rect x="556.10" y="911.30" width="27.20" height="37.10" fill="#0b6fc6" />
<rect x="556.10" y="911.30" width="0.90" height="37.10" fill="#0a5ca8" />
<rect x="582.40" y="911.30" width="0.90" height="37.10" fill="#0a5ca8" />
<rect x="556.10" y="911.30" width="27.20" height="1.60" fill="#3a9ae8" />
<line x1="569.70" y1="904.80" x2="569.70" y2="917.10" stroke="#000" stroke-opacity="0.3" stroke-width="1"/>
<line x1="568.50" y1="904.80" x2="570.90" y2="904.80" stroke="#000" stroke-opacity="0.7" stroke-width="1.2"/>
<line x1="568.50" y1="917.10" x2="570.90" y2="917.10" stroke="#000" stroke-opacity="0.7" stroke-width="1.2"/>
<rect x="624.00" y="920.10" width="27.60" height="28.30" fill="#98d85a" />
<rect x="624.00" y="920.10" width="0.90" height="28.30" fill="#80c048" />
<rect x="650.70" y="920.10" width="0.90" height="28.30" fill="#80c048" />
<rect x="624.00" y="920.10" width="27.60" height="1.60" fill="#b8f080" />
<line x1="637.80" y1="905.90" x2="637.80" y2="933.80" stroke="#000" stroke-opacity="0.3" stroke-width="1"/>
<line x1="636.60" y1="905.90" x2="639.00" y2="905.90" stroke="#000" stroke-opacity="0.7" stroke-width="1.2"/>
<line x1="636.60" y1="933.80" x2="639.00" y2="933.80" stroke="#000" stroke-opacity="0.7" stroke-width="1.2"/>
<text transform="translate(360.00,856.80) rotate(-90)" x="0" y="0" font-size="15.0" fill="#000" font-weight="bold" text-anchor="middle" textLength="214.5" lengthAdjust="spacingAndGlyphs" >Relative Median Fluorescence%</text>
<text x="411.60" y="970.40" font-size="12.2" fill="#000" font-weight="bold" text-anchor="start" textLength="42.6" lengthAdjust="spacingAndGlyphs"  style="">Control</text>
<text x="472.60" y="970.40" font-size="12.2" fill="#000" font-weight="bold" text-anchor="start" textLength="57.6" lengthAdjust="spacingAndGlyphs"  style="">4 µM Tcin</text>
<text x="540.80" y="970.40" font-size="12.2" fill="#000" font-weight="bold" text-anchor="start" textLength="58.4" lengthAdjust="spacingAndGlyphs"  style="">215µM T2</text>
<text x="615.90" y="970.40" font-size="12.2" fill="#000" font-weight="bold" text-anchor="start" textLength="44.2" lengthAdjust="spacingAndGlyphs"  style="">300 µM</text>
<text x="626.00" y="988.30" font-size="12.6" fill="#000" font-weight="bold" text-anchor="start" textLength="23.5" lengthAdjust="spacingAndGlyphs"  style="">DAS</text>
</svg>
</body></html>
